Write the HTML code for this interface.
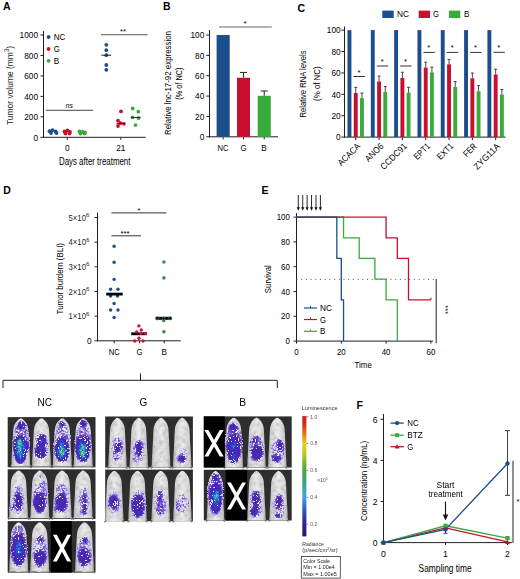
<!DOCTYPE html>
<html><head><meta charset="utf-8"><style>
html,body{margin:0;padding:0;background:#fff;}
svg{display:block;font-family:"Liberation Sans",sans-serif;}
</style></head><body>
<svg width="520" height="579" viewBox="0 0 520 579">
<rect width="520" height="579" fill="#fff"/>
<defs><linearGradient id="mg" x1="0" y1="0" x2="1" y2="0"><stop offset="0" stop-color="#9a9a9a"/><stop offset="0.15" stop-color="#d4d4d4"/><stop offset="0.5" stop-color="#ececec"/><stop offset="0.85" stop-color="#d4d4d4"/><stop offset="1" stop-color="#9a9a9a"/></linearGradient><filter id="soft" x="-20%" y="-20%" width="140%" height="140%"><feGaussianBlur stdDeviation="0.5"/></filter><filter id="fur" x="-20%" y="-10%" width="140%" height="120%" color-interpolation-filters="sRGB"><feGaussianBlur in="SourceGraphic" stdDeviation="0.6" result="B"/><feTurbulence type="fractalNoise" baseFrequency="0.22" numOctaves="2" seed="9" result="T"/><feColorMatrix in="T" type="matrix" values="0 0 0 0 0.55  0 0 0 0 0.55  0 0 0 0 0.55  0.9 0 0 0 -0.38" result="T2"/><feComposite in="T2" in2="B" operator="in" result="T3"/><feMerge><feMergeNode in="B"/><feMergeNode in="T3"/></feMerge></filter><filter id="imgblur"><feGaussianBlur stdDeviation="0.3"/></filter><filter id="lum1" x="0" y="0" width="1" height="1" color-interpolation-filters="sRGB"><feGaussianBlur in="SourceGraphic" stdDeviation="1.7" result="F"/><feTurbulence type="fractalNoise" baseFrequency="0.6" numOctaves="2" seed="3" result="N1a"/><feColorMatrix in="N1a" type="matrix" values="1 0 0 0 0  1 0 0 0 0  1 0 0 0 0  0 0 0 0 1" result="N1"/><feTurbulence type="fractalNoise" baseFrequency="0.12" numOctaves="2" seed="6" result="N2a"/><feColorMatrix in="N2a" type="matrix" values="1 0 0 0 0  1 0 0 0 0  1 0 0 0 0  0 0 0 0 1" result="N2"/><feComposite in="N1" in2="N2" operator="arithmetic" k1="0" k2="1.5" k3="0.8" k4="-0.65" result="N"/><feComposite in="F" in2="N" operator="arithmetic" k1="4.4" k2="0" k3="0" k4="-0.3" result="FN"/><feColorMatrix in="FN" type="matrix" values="0 0 0 0 0  0 0 0 0 0  0 0 0 0 0  1 0 0 0 0" result="FA"/><feComponentTransfer in="FA" result="M"><feFuncA type="discrete" tableValues="0 0 1 1 1 1 1 1 1 1"/></feComponentTransfer><feComposite in="F" in2="N" operator="arithmetic" k1="0" k2="1.25" k3="0.35" k4="-0.295" result="FC"/><feComponentTransfer in="FC" result="C"><feFuncR type="table" tableValues="0.843 0.804 0.725 0.478 0.353 0.282 0.275 0.176 0.157 0.235 0.843"/><feFuncG type="table" tableValues="0.804 0.753 0.667 0.373 0.220 0.141 0.173 0.243 0.510 0.784 0.784"/><feFuncB type="table" tableValues="0.961 0.949 0.933 0.839 0.729 0.651 0.729 0.804 0.882 0.588 0.157"/><feFuncA type="linear" slope="0" intercept="1"/></feComponentTransfer><feComposite in="C" in2="M" operator="in"/></filter><filter id="lum2" x="0" y="0" width="1" height="1" color-interpolation-filters="sRGB"><feGaussianBlur in="SourceGraphic" stdDeviation="1.7" result="F"/><feTurbulence type="fractalNoise" baseFrequency="0.6" numOctaves="2" seed="6" result="N1a"/><feColorMatrix in="N1a" type="matrix" values="1 0 0 0 0  1 0 0 0 0  1 0 0 0 0  0 0 0 0 1" result="N1"/><feTurbulence type="fractalNoise" baseFrequency="0.12" numOctaves="2" seed="11" result="N2a"/><feColorMatrix in="N2a" type="matrix" values="1 0 0 0 0  1 0 0 0 0  1 0 0 0 0  0 0 0 0 1" result="N2"/><feComposite in="N1" in2="N2" operator="arithmetic" k1="0" k2="1.5" k3="0.8" k4="-0.65" result="N"/><feComposite in="F" in2="N" operator="arithmetic" k1="4.4" k2="0" k3="0" k4="-0.3" result="FN"/><feColorMatrix in="FN" type="matrix" values="0 0 0 0 0  0 0 0 0 0  0 0 0 0 0  1 0 0 0 0" result="FA"/><feComponentTransfer in="FA" result="M"><feFuncA type="discrete" tableValues="0 0 1 1 1 1 1 1 1 1"/></feComponentTransfer><feComposite in="F" in2="N" operator="arithmetic" k1="0" k2="1.25" k3="0.35" k4="-0.295" result="FC"/><feComponentTransfer in="FC" result="C"><feFuncR type="table" tableValues="0.843 0.804 0.725 0.478 0.353 0.282 0.275 0.176 0.157 0.235 0.843"/><feFuncG type="table" tableValues="0.804 0.753 0.667 0.373 0.220 0.141 0.173 0.243 0.510 0.784 0.784"/><feFuncB type="table" tableValues="0.961 0.949 0.933 0.839 0.729 0.651 0.729 0.804 0.882 0.588 0.157"/><feFuncA type="linear" slope="0" intercept="1"/></feComponentTransfer><feComposite in="C" in2="M" operator="in"/></filter><filter id="lum3" x="0" y="0" width="1" height="1" color-interpolation-filters="sRGB"><feGaussianBlur in="SourceGraphic" stdDeviation="1.7" result="F"/><feTurbulence type="fractalNoise" baseFrequency="0.6" numOctaves="2" seed="9" result="N1a"/><feColorMatrix in="N1a" type="matrix" values="1 0 0 0 0  1 0 0 0 0  1 0 0 0 0  0 0 0 0 1" result="N1"/><feTurbulence type="fractalNoise" baseFrequency="0.12" numOctaves="2" seed="16" result="N2a"/><feColorMatrix in="N2a" type="matrix" values="1 0 0 0 0  1 0 0 0 0  1 0 0 0 0  0 0 0 0 1" result="N2"/><feComposite in="N1" in2="N2" operator="arithmetic" k1="0" k2="1.5" k3="0.8" k4="-0.65" result="N"/><feComposite in="F" in2="N" operator="arithmetic" k1="4.4" k2="0" k3="0" k4="-0.3" result="FN"/><feColorMatrix in="FN" type="matrix" values="0 0 0 0 0  0 0 0 0 0  0 0 0 0 0  1 0 0 0 0" result="FA"/><feComponentTransfer in="FA" result="M"><feFuncA type="discrete" tableValues="0 0 1 1 1 1 1 1 1 1"/></feComponentTransfer><feComposite in="F" in2="N" operator="arithmetic" k1="0" k2="1.25" k3="0.35" k4="-0.295" result="FC"/><feComponentTransfer in="FC" result="C"><feFuncR type="table" tableValues="0.843 0.804 0.725 0.478 0.353 0.282 0.275 0.176 0.157 0.235 0.843"/><feFuncG type="table" tableValues="0.804 0.753 0.667 0.373 0.220 0.141 0.173 0.243 0.510 0.784 0.784"/><feFuncB type="table" tableValues="0.961 0.949 0.933 0.839 0.729 0.651 0.729 0.804 0.882 0.588 0.157"/><feFuncA type="linear" slope="0" intercept="1"/></feComponentTransfer><feComposite in="C" in2="M" operator="in"/></filter><filter id="lum4" x="0" y="0" width="1" height="1" color-interpolation-filters="sRGB"><feGaussianBlur in="SourceGraphic" stdDeviation="1.7" result="F"/><feTurbulence type="fractalNoise" baseFrequency="0.6" numOctaves="2" seed="12" result="N1a"/><feColorMatrix in="N1a" type="matrix" values="1 0 0 0 0  1 0 0 0 0  1 0 0 0 0  0 0 0 0 1" result="N1"/><feTurbulence type="fractalNoise" baseFrequency="0.12" numOctaves="2" seed="21" result="N2a"/><feColorMatrix in="N2a" type="matrix" values="1 0 0 0 0  1 0 0 0 0  1 0 0 0 0  0 0 0 0 1" result="N2"/><feComposite in="N1" in2="N2" operator="arithmetic" k1="0" k2="1.5" k3="0.8" k4="-0.65" result="N"/><feComposite in="F" in2="N" operator="arithmetic" k1="4.4" k2="0" k3="0" k4="-0.3" result="FN"/><feColorMatrix in="FN" type="matrix" values="0 0 0 0 0  0 0 0 0 0  0 0 0 0 0  1 0 0 0 0" result="FA"/><feComponentTransfer in="FA" result="M"><feFuncA type="discrete" tableValues="0 0 1 1 1 1 1 1 1 1"/></feComponentTransfer><feComposite in="F" in2="N" operator="arithmetic" k1="0" k2="1.25" k3="0.35" k4="-0.295" result="FC"/><feComponentTransfer in="FC" result="C"><feFuncR type="table" tableValues="0.843 0.804 0.725 0.478 0.353 0.282 0.275 0.176 0.157 0.235 0.843"/><feFuncG type="table" tableValues="0.804 0.753 0.667 0.373 0.220 0.141 0.173 0.243 0.510 0.784 0.784"/><feFuncB type="table" tableValues="0.961 0.949 0.933 0.839 0.729 0.651 0.729 0.804 0.882 0.588 0.157"/><feFuncA type="linear" slope="0" intercept="1"/></feComponentTransfer><feComposite in="C" in2="M" operator="in"/></filter><filter id="lum5" x="0" y="0" width="1" height="1" color-interpolation-filters="sRGB"><feGaussianBlur in="SourceGraphic" stdDeviation="1.7" result="F"/><feTurbulence type="fractalNoise" baseFrequency="0.6" numOctaves="2" seed="15" result="N1a"/><feColorMatrix in="N1a" type="matrix" values="1 0 0 0 0  1 0 0 0 0  1 0 0 0 0  0 0 0 0 1" result="N1"/><feTurbulence type="fractalNoise" baseFrequency="0.12" numOctaves="2" seed="26" result="N2a"/><feColorMatrix in="N2a" type="matrix" values="1 0 0 0 0  1 0 0 0 0  1 0 0 0 0  0 0 0 0 1" result="N2"/><feComposite in="N1" in2="N2" operator="arithmetic" k1="0" k2="1.5" k3="0.8" k4="-0.65" result="N"/><feComposite in="F" in2="N" operator="arithmetic" k1="4.4" k2="0" k3="0" k4="-0.3" result="FN"/><feColorMatrix in="FN" type="matrix" values="0 0 0 0 0  0 0 0 0 0  0 0 0 0 0  1 0 0 0 0" result="FA"/><feComponentTransfer in="FA" result="M"><feFuncA type="discrete" tableValues="0 0 1 1 1 1 1 1 1 1"/></feComponentTransfer><feComposite in="F" in2="N" operator="arithmetic" k1="0" k2="1.25" k3="0.35" k4="-0.295" result="FC"/><feComponentTransfer in="FC" result="C"><feFuncR type="table" tableValues="0.843 0.804 0.725 0.478 0.353 0.282 0.275 0.176 0.157 0.235 0.843"/><feFuncG type="table" tableValues="0.804 0.753 0.667 0.373 0.220 0.141 0.173 0.243 0.510 0.784 0.784"/><feFuncB type="table" tableValues="0.961 0.949 0.933 0.839 0.729 0.651 0.729 0.804 0.882 0.588 0.157"/><feFuncA type="linear" slope="0" intercept="1"/></feComponentTransfer><feComposite in="C" in2="M" operator="in"/></filter><filter id="lum6" x="0" y="0" width="1" height="1" color-interpolation-filters="sRGB"><feGaussianBlur in="SourceGraphic" stdDeviation="1.7" result="F"/><feTurbulence type="fractalNoise" baseFrequency="0.6" numOctaves="2" seed="18" result="N1a"/><feColorMatrix in="N1a" type="matrix" values="1 0 0 0 0  1 0 0 0 0  1 0 0 0 0  0 0 0 0 1" result="N1"/><feTurbulence type="fractalNoise" baseFrequency="0.12" numOctaves="2" seed="31" result="N2a"/><feColorMatrix in="N2a" type="matrix" values="1 0 0 0 0  1 0 0 0 0  1 0 0 0 0  0 0 0 0 1" result="N2"/><feComposite in="N1" in2="N2" operator="arithmetic" k1="0" k2="1.5" k3="0.8" k4="-0.65" result="N"/><feComposite in="F" in2="N" operator="arithmetic" k1="4.4" k2="0" k3="0" k4="-0.3" result="FN"/><feColorMatrix in="FN" type="matrix" values="0 0 0 0 0  0 0 0 0 0  0 0 0 0 0  1 0 0 0 0" result="FA"/><feComponentTransfer in="FA" result="M"><feFuncA type="discrete" tableValues="0 0 1 1 1 1 1 1 1 1"/></feComponentTransfer><feComposite in="F" in2="N" operator="arithmetic" k1="0" k2="1.25" k3="0.35" k4="-0.295" result="FC"/><feComponentTransfer in="FC" result="C"><feFuncR type="table" tableValues="0.843 0.804 0.725 0.478 0.353 0.282 0.275 0.176 0.157 0.235 0.843"/><feFuncG type="table" tableValues="0.804 0.753 0.667 0.373 0.220 0.141 0.173 0.243 0.510 0.784 0.784"/><feFuncB type="table" tableValues="0.961 0.949 0.933 0.839 0.729 0.651 0.729 0.804 0.882 0.588 0.157"/><feFuncA type="linear" slope="0" intercept="1"/></feComponentTransfer><feComposite in="C" in2="M" operator="in"/></filter><filter id="lum7" x="0" y="0" width="1" height="1" color-interpolation-filters="sRGB"><feGaussianBlur in="SourceGraphic" stdDeviation="1.7" result="F"/><feTurbulence type="fractalNoise" baseFrequency="0.6" numOctaves="2" seed="21" result="N1a"/><feColorMatrix in="N1a" type="matrix" values="1 0 0 0 0  1 0 0 0 0  1 0 0 0 0  0 0 0 0 1" result="N1"/><feTurbulence type="fractalNoise" baseFrequency="0.12" numOctaves="2" seed="36" result="N2a"/><feColorMatrix in="N2a" type="matrix" values="1 0 0 0 0  1 0 0 0 0  1 0 0 0 0  0 0 0 0 1" result="N2"/><feComposite in="N1" in2="N2" operator="arithmetic" k1="0" k2="1.5" k3="0.8" k4="-0.65" result="N"/><feComposite in="F" in2="N" operator="arithmetic" k1="4.4" k2="0" k3="0" k4="-0.3" result="FN"/><feColorMatrix in="FN" type="matrix" values="0 0 0 0 0  0 0 0 0 0  0 0 0 0 0  1 0 0 0 0" result="FA"/><feComponentTransfer in="FA" result="M"><feFuncA type="discrete" tableValues="0 0 1 1 1 1 1 1 1 1"/></feComponentTransfer><feComposite in="F" in2="N" operator="arithmetic" k1="0" k2="1.25" k3="0.35" k4="-0.295" result="FC"/><feComponentTransfer in="FC" result="C"><feFuncR type="table" tableValues="0.843 0.804 0.725 0.478 0.353 0.282 0.275 0.176 0.157 0.235 0.843"/><feFuncG type="table" tableValues="0.804 0.753 0.667 0.373 0.220 0.141 0.173 0.243 0.510 0.784 0.784"/><feFuncB type="table" tableValues="0.961 0.949 0.933 0.839 0.729 0.651 0.729 0.804 0.882 0.588 0.157"/><feFuncA type="linear" slope="0" intercept="1"/></feComponentTransfer><feComposite in="C" in2="M" operator="in"/></filter></defs>
<g filter="url(#imgblur)">
<rect x="7.70" y="417.10" width="87.80" height="50.20" fill="#2e2e2e"/>
<path d="M14.33 464.30 L10.62 467.80 M27.27 464.30 L30.98 467.80" stroke="#777" stroke-width="1.3"/>
<path d="M21.54 418.60 C22.13 418.84 22.93 419.47 23.57 420.03 C24.22 420.59 24.87 421.22 25.43 421.94 C25.98 422.65 26.47 423.37 26.91 424.32 C27.34 425.28 27.74 426.23 28.02 427.66 C28.29 429.09 28.40 430.45 28.57 432.91 C28.74 435.37 28.86 439.27 29.03 442.45 C29.20 445.63 29.42 449.21 29.59 451.99 C29.76 454.77 29.97 457.16 30.05 459.14 C30.13 461.13 30.17 462.72 30.05 463.92 C29.93 465.11 32.27 465.90 29.31 466.30 C26.35 466.70 15.25 466.70 12.29 466.30 C9.33 465.90 11.67 465.11 11.55 463.92 C11.43 462.72 11.47 461.13 11.55 459.14 C11.63 457.16 11.84 454.77 12.01 451.99 C12.18 449.21 12.40 445.63 12.57 442.45 C12.74 439.27 12.86 435.37 13.03 432.91 C13.20 430.45 13.31 429.09 13.59 427.66 C13.86 426.23 14.26 425.28 14.70 424.32 C15.13 423.37 15.62 422.65 16.18 421.94 C16.73 421.22 17.38 420.59 18.03 420.03 C18.67 419.47 19.47 418.84 20.06 418.60 C20.65 418.36 20.95 418.36 21.54 418.60 Z" fill="url(#mg)" filter="url(#fur)"/>
<path d="M35.02 464.30 L31.32 467.80 M47.98 464.30 L51.67 467.80" stroke="#777" stroke-width="1.3"/>
<path d="M42.24 418.60 C42.83 418.84 43.63 419.47 44.27 420.03 C44.92 420.59 45.57 421.22 46.12 421.94 C46.68 422.65 47.17 423.37 47.61 424.32 C48.04 425.28 48.44 426.23 48.72 427.66 C48.99 429.09 49.10 430.45 49.27 432.91 C49.44 435.37 49.56 439.27 49.73 442.45 C49.90 445.63 50.12 449.21 50.29 451.99 C50.46 454.77 50.67 457.16 50.75 459.14 C50.83 461.13 50.87 462.72 50.75 463.92 C50.63 465.11 52.97 465.90 50.01 466.30 C47.05 466.70 35.95 466.70 32.99 466.30 C30.03 465.90 32.37 465.11 32.25 463.92 C32.13 462.72 32.17 461.13 32.25 459.14 C32.33 457.16 32.54 454.77 32.71 451.99 C32.88 449.21 33.10 445.63 33.27 442.45 C33.44 439.27 33.56 435.37 33.73 432.91 C33.90 430.45 34.01 429.09 34.28 427.66 C34.56 426.23 34.96 425.28 35.39 424.32 C35.83 423.37 36.32 422.65 36.88 421.94 C37.43 421.22 38.08 420.59 38.73 420.03 C39.37 419.47 40.17 418.84 40.76 418.60 C41.35 418.36 41.65 418.36 42.24 418.60 Z" fill="url(#mg)" filter="url(#fur)"/>
<path d="M55.82 464.30 L52.12 467.80 M68.77 464.30 L72.47 467.80" stroke="#777" stroke-width="1.3"/>
<path d="M63.04 418.60 C63.63 418.84 64.43 419.47 65.08 420.03 C65.72 420.59 66.37 421.22 66.92 421.94 C67.48 422.65 67.97 423.37 68.41 424.32 C68.84 425.28 69.24 426.23 69.52 427.66 C69.79 429.09 69.90 430.45 70.07 432.91 C70.24 435.37 70.36 439.27 70.53 442.45 C70.70 445.63 70.92 449.21 71.09 451.99 C71.26 454.77 71.47 457.16 71.55 459.14 C71.63 461.13 71.67 462.72 71.55 463.92 C71.43 465.11 73.77 465.90 70.81 466.30 C67.85 466.70 56.75 466.70 53.79 466.30 C50.83 465.90 53.17 465.11 53.05 463.92 C52.93 462.72 52.97 461.13 53.05 459.14 C53.13 457.16 53.34 454.77 53.51 451.99 C53.68 449.21 53.90 445.63 54.07 442.45 C54.24 439.27 54.36 435.37 54.53 432.91 C54.70 430.45 54.81 429.09 55.08 427.66 C55.36 426.23 55.76 425.28 56.19 424.32 C56.63 423.37 57.12 422.65 57.67 421.94 C58.23 421.22 58.88 420.59 59.52 420.03 C60.17 419.47 60.97 418.84 61.56 418.60 C62.15 418.36 62.45 418.36 63.04 418.60 Z" fill="url(#mg)" filter="url(#fur)"/>
<path d="M76.73 464.30 L73.03 467.80 M89.67 464.30 L93.38 467.80" stroke="#777" stroke-width="1.3"/>
<path d="M83.94 418.60 C84.53 418.84 85.33 419.47 85.98 420.03 C86.62 420.59 87.27 421.22 87.83 421.94 C88.38 422.65 88.87 423.37 89.31 424.32 C89.74 425.28 90.14 426.23 90.42 427.66 C90.69 429.09 90.80 430.45 90.97 432.91 C91.14 435.37 91.26 439.27 91.43 442.45 C91.60 445.63 91.82 449.21 91.99 451.99 C92.16 454.77 92.37 457.16 92.45 459.14 C92.53 461.13 92.57 462.72 92.45 463.92 C92.33 465.11 94.67 465.90 91.71 466.30 C88.75 466.70 77.65 466.70 74.69 466.30 C71.73 465.90 74.07 465.11 73.95 463.92 C73.83 462.72 73.87 461.13 73.95 459.14 C74.03 457.16 74.24 454.77 74.41 451.99 C74.58 449.21 74.80 445.63 74.97 442.45 C75.14 439.27 75.26 435.37 75.43 432.91 C75.60 430.45 75.71 429.09 75.98 427.66 C76.26 426.23 76.66 425.28 77.09 424.32 C77.53 423.37 78.02 422.65 78.58 421.94 C79.13 421.22 79.78 420.59 80.42 420.03 C81.07 419.47 81.87 418.84 82.46 418.60 C83.05 418.36 83.35 418.36 83.94 418.60 Z" fill="url(#mg)" filter="url(#fur)"/>
<g filter="url(#lum1)">
<rect x="7.70" y="417.10" width="87.80" height="50.20" fill="#000"/>
<ellipse cx="21.00" cy="442.00" rx="9.00" ry="22.00" fill="#fff" fill-opacity="0.3"/>
<ellipse cx="20.00" cy="450.00" rx="7.00" ry="14.00" fill="#fff" fill-opacity="0.33"/>
<ellipse cx="20.00" cy="449.00" rx="4.50" ry="12.00" fill="#fff" fill-opacity="0.3"/>
<ellipse cx="19.50" cy="448.00" rx="2.20" ry="10.00" fill="#fff" fill-opacity="0.4"/>
<ellipse cx="19.30" cy="442.50" rx="1.60" ry="3.00" fill="#fff" fill-opacity="0.5"/>
<ellipse cx="21.50" cy="425.00" rx="4.00" ry="3.50" fill="#fff" fill-opacity="0.4"/>
<ellipse cx="27.00" cy="447.00" rx="2.50" ry="5.00" fill="#fff" fill-opacity="0.2"/>
<ellipse cx="41.50" cy="446.00" rx="8.50" ry="14.00" fill="#fff" fill-opacity="0.25"/>
<ellipse cx="41.00" cy="453.00" rx="7.00" ry="5.50" fill="#fff" fill-opacity="0.35"/>
<ellipse cx="41.50" cy="442.00" rx="4.00" ry="8.00" fill="#fff" fill-opacity="0.38"/>
<ellipse cx="41.50" cy="441.00" rx="1.80" ry="4.50" fill="#fff" fill-opacity="0.3"/>
<ellipse cx="62.00" cy="423.50" rx="2.80" ry="2.80" fill="#fff" fill-opacity="0.4"/>
<ellipse cx="62.00" cy="442.00" rx="9.00" ry="20.00" fill="#fff" fill-opacity="0.28"/>
<ellipse cx="62.00" cy="451.00" rx="8.00" ry="13.00" fill="#fff" fill-opacity="0.33"/>
<ellipse cx="62.00" cy="450.00" rx="4.50" ry="9.00" fill="#fff" fill-opacity="0.3"/>
<ellipse cx="62.00" cy="452.00" rx="2.80" ry="5.00" fill="#fff" fill-opacity="0.38"/>
<ellipse cx="61.50" cy="445.00" rx="1.80" ry="3.50" fill="#fff" fill-opacity="0.42"/>
<ellipse cx="83.00" cy="423.00" rx="3.50" ry="3.50" fill="#fff" fill-opacity="0.45"/>
<ellipse cx="83.00" cy="442.00" rx="9.00" ry="20.00" fill="#fff" fill-opacity="0.28"/>
<ellipse cx="83.00" cy="449.00" rx="8.00" ry="14.00" fill="#fff" fill-opacity="0.33"/>
<ellipse cx="83.00" cy="450.00" rx="5.00" ry="10.00" fill="#fff" fill-opacity="0.3"/>
<ellipse cx="83.00" cy="449.00" rx="2.80" ry="6.00" fill="#fff" fill-opacity="0.38"/>
<ellipse cx="83.00" cy="455.00" rx="2.20" ry="3.50" fill="#fff" fill-opacity="0.42"/>
</g>
<rect x="7.70" y="469.30" width="87.80" height="49.70" fill="#2e2e2e"/>
<path d="M12.13 516.00 L8.43 519.50 M25.08 516.00 L28.78 519.50" stroke="#777" stroke-width="1.3"/>
<path d="M19.34 470.80 C19.93 471.04 20.73 471.67 21.38 472.22 C22.02 472.77 22.67 473.40 23.23 474.10 C23.78 474.81 24.27 475.52 24.71 476.46 C25.14 477.41 25.54 478.35 25.82 479.77 C26.09 481.18 26.20 482.52 26.37 484.96 C26.54 487.40 26.66 491.25 26.83 494.40 C27.00 497.55 27.22 501.09 27.39 503.84 C27.56 506.59 27.77 508.95 27.85 510.92 C27.93 512.89 27.97 514.46 27.85 515.64 C27.73 516.82 30.07 517.61 27.11 518.00 C24.15 518.39 13.05 518.39 10.09 518.00 C7.13 517.61 9.47 516.82 9.35 515.64 C9.23 514.46 9.27 512.89 9.35 510.92 C9.43 508.95 9.64 506.59 9.81 503.84 C9.98 501.09 10.20 497.55 10.37 494.40 C10.54 491.25 10.66 487.40 10.83 484.96 C11.00 482.52 11.11 481.18 11.39 479.77 C11.66 478.35 12.06 477.41 12.50 476.46 C12.93 475.52 13.42 474.81 13.98 474.10 C14.53 473.40 15.18 472.77 15.83 472.22 C16.47 471.67 17.27 471.04 17.86 470.80 C18.45 470.56 18.75 470.56 19.34 470.80 Z" fill="url(#mg)" filter="url(#fur)"/>
<path d="M33.32 516.00 L29.62 519.50 M46.27 516.00 L49.97 519.50" stroke="#777" stroke-width="1.3"/>
<path d="M40.54 470.80 C41.13 471.04 41.93 471.67 42.57 472.22 C43.22 472.77 43.87 473.40 44.42 474.10 C44.98 474.81 45.47 475.52 45.91 476.46 C46.34 477.41 46.74 478.35 47.02 479.77 C47.29 481.18 47.40 482.52 47.57 484.96 C47.74 487.40 47.86 491.25 48.03 494.40 C48.20 497.55 48.42 501.09 48.59 503.84 C48.76 506.59 48.97 508.95 49.05 510.92 C49.13 512.89 49.17 514.46 49.05 515.64 C48.93 516.82 51.27 517.61 48.31 518.00 C45.35 518.39 34.25 518.39 31.29 518.00 C28.33 517.61 30.67 516.82 30.55 515.64 C30.43 514.46 30.47 512.89 30.55 510.92 C30.63 508.95 30.84 506.59 31.01 503.84 C31.18 501.09 31.40 497.55 31.57 494.40 C31.74 491.25 31.86 487.40 32.03 484.96 C32.20 482.52 32.31 481.18 32.58 479.77 C32.86 478.35 33.26 477.41 33.69 476.46 C34.13 475.52 34.62 474.81 35.17 474.10 C35.73 473.40 36.38 472.77 37.02 472.22 C37.67 471.67 38.47 471.04 39.06 470.80 C39.65 470.56 39.95 470.56 40.54 470.80 Z" fill="url(#mg)" filter="url(#fur)"/>
<path d="M55.62 516.00 L51.92 519.50 M68.58 516.00 L72.28 519.50" stroke="#777" stroke-width="1.3"/>
<path d="M62.84 470.80 C63.43 471.04 64.23 471.67 64.88 472.22 C65.52 472.77 66.17 473.40 66.72 474.10 C67.28 474.81 67.77 475.52 68.20 476.46 C68.64 477.41 69.04 478.35 69.31 479.77 C69.59 481.18 69.70 482.52 69.87 484.96 C70.04 487.40 70.16 491.25 70.33 494.40 C70.50 497.55 70.72 501.09 70.89 503.84 C71.06 506.59 71.27 508.95 71.35 510.92 C71.43 512.89 71.47 514.46 71.35 515.64 C71.23 516.82 73.57 517.61 70.61 518.00 C67.65 518.39 56.55 518.39 53.59 518.00 C50.63 517.61 52.97 516.82 52.85 515.64 C52.73 514.46 52.77 512.89 52.85 510.92 C52.93 508.95 53.14 506.59 53.31 503.84 C53.48 501.09 53.70 497.55 53.87 494.40 C54.04 491.25 54.16 487.40 54.33 484.96 C54.50 482.52 54.61 481.18 54.89 479.77 C55.16 478.35 55.56 477.41 56.00 476.46 C56.43 475.52 56.92 474.81 57.48 474.10 C58.03 473.40 58.68 472.77 59.33 472.22 C59.97 471.67 60.77 471.04 61.36 470.80 C61.95 470.56 62.25 470.56 62.84 470.80 Z" fill="url(#mg)" filter="url(#fur)"/>
<path d="M76.62 516.00 L72.92 519.50 M89.57 516.00 L93.27 519.50" stroke="#777" stroke-width="1.3"/>
<path d="M83.84 470.80 C84.43 471.04 85.23 471.67 85.88 472.22 C86.52 472.77 87.17 473.40 87.72 474.10 C88.28 474.81 88.77 475.52 89.20 476.46 C89.64 477.41 90.04 478.35 90.31 479.77 C90.59 481.18 90.70 482.52 90.87 484.96 C91.04 487.40 91.16 491.25 91.33 494.40 C91.50 497.55 91.72 501.09 91.89 503.84 C92.06 506.59 92.27 508.95 92.35 510.92 C92.43 512.89 92.47 514.46 92.35 515.64 C92.23 516.82 94.57 517.61 91.61 518.00 C88.65 518.39 77.55 518.39 74.59 518.00 C71.63 517.61 73.97 516.82 73.85 515.64 C73.73 514.46 73.77 512.89 73.85 510.92 C73.93 508.95 74.14 506.59 74.31 503.84 C74.48 501.09 74.70 497.55 74.87 494.40 C75.04 491.25 75.16 487.40 75.33 484.96 C75.50 482.52 75.61 481.18 75.88 479.77 C76.16 478.35 76.56 477.41 76.99 476.46 C77.43 475.52 77.92 474.81 78.47 474.10 C79.03 473.40 79.68 472.77 80.32 472.22 C80.97 471.67 81.77 471.04 82.36 470.80 C82.95 470.56 83.25 470.56 83.84 470.80 Z" fill="url(#mg)" filter="url(#fur)"/>
<g filter="url(#lum2)">
<rect x="7.70" y="469.30" width="87.80" height="49.70" fill="#000"/>
<ellipse cx="18.00" cy="500.00" rx="8.00" ry="15.00" fill="#fff" fill-opacity="0.25"/>
<ellipse cx="18.50" cy="501.00" rx="3.50" ry="9.00" fill="#fff" fill-opacity="0.35"/>
<ellipse cx="11.00" cy="508.00" rx="2.50" ry="3.00" fill="#fff" fill-opacity="0.35"/>
<ellipse cx="40.00" cy="497.00" rx="9.00" ry="17.00" fill="#fff" fill-opacity="0.28"/>
<ellipse cx="39.50" cy="503.00" rx="6.00" ry="10.00" fill="#fff" fill-opacity="0.35"/>
<ellipse cx="39.50" cy="476.50" rx="2.50" ry="2.50" fill="#fff" fill-opacity="0.4"/>
<ellipse cx="45.50" cy="482.00" rx="1.80" ry="1.80" fill="#fff" fill-opacity="0.4"/>
<ellipse cx="62.00" cy="498.00" rx="9.00" ry="16.00" fill="#fff" fill-opacity="0.26"/>
<ellipse cx="61.50" cy="502.00" rx="5.50" ry="9.00" fill="#fff" fill-opacity="0.35"/>
<ellipse cx="55.00" cy="510.00" rx="3.00" ry="3.00" fill="#fff" fill-opacity="0.35"/>
<ellipse cx="62.00" cy="472.00" rx="1.80" ry="1.80" fill="#fff" fill-opacity="0.4"/>
<ellipse cx="63.00" cy="498.00" rx="1.50" ry="1.80" fill="#fff" fill-opacity="0.3"/>
<ellipse cx="83.50" cy="502.00" rx="7.00" ry="16.00" fill="#fff" fill-opacity="0.22"/>
<ellipse cx="84.50" cy="503.00" rx="2.00" ry="12.00" fill="#fff" fill-opacity="0.38"/>
<ellipse cx="82.00" cy="479.00" rx="1.50" ry="1.20" fill="#fff" fill-opacity="0.4"/>
</g>
<rect x="7.70" y="521.10" width="87.80" height="51.50" fill="#2e2e2e"/>
<path d="M12.22 569.60 L8.52 573.10 M25.17 569.60 L28.88 573.10" stroke="#777" stroke-width="1.3"/>
<path d="M19.44 522.60 C20.03 522.85 20.83 523.50 21.47 524.07 C22.12 524.64 22.77 525.29 23.32 526.03 C23.88 526.76 24.37 527.50 24.80 528.48 C25.24 529.46 25.64 530.44 25.91 531.91 C26.19 533.38 26.30 534.77 26.47 537.30 C26.64 539.83 26.76 543.83 26.93 547.10 C27.10 550.37 27.32 554.04 27.49 556.90 C27.66 559.76 27.87 562.21 27.95 564.25 C28.03 566.29 28.07 567.92 27.95 569.15 C27.83 570.38 30.17 571.19 27.21 571.60 C24.25 572.01 13.15 572.01 10.19 571.60 C7.23 571.19 9.57 570.38 9.45 569.15 C9.33 567.92 9.37 566.29 9.45 564.25 C9.53 562.21 9.74 559.76 9.91 556.90 C10.08 554.04 10.30 550.37 10.47 547.10 C10.64 543.83 10.76 539.83 10.93 537.30 C11.10 534.77 11.21 533.38 11.48 531.91 C11.76 530.44 12.16 529.46 12.59 528.48 C13.03 527.50 13.52 526.76 14.07 526.03 C14.63 525.29 15.28 524.64 15.92 524.07 C16.57 523.50 17.37 522.85 17.96 522.60 C18.55 522.36 18.85 522.36 19.44 522.60 Z" fill="url(#mg)" filter="url(#fur)"/>
<path d="M33.23 569.60 L29.53 573.10 M46.18 569.60 L49.88 573.10" stroke="#777" stroke-width="1.3"/>
<path d="M40.44 522.60 C41.03 522.85 41.83 523.50 42.48 524.07 C43.12 524.64 43.77 525.29 44.33 526.03 C44.88 526.76 45.37 527.50 45.81 528.48 C46.24 529.46 46.64 530.44 46.92 531.91 C47.19 533.38 47.30 534.77 47.47 537.30 C47.64 539.83 47.76 543.83 47.93 547.10 C48.10 550.37 48.32 554.04 48.49 556.90 C48.66 559.76 48.87 562.21 48.95 564.25 C49.03 566.29 49.07 567.92 48.95 569.15 C48.83 570.38 51.17 571.19 48.21 571.60 C45.25 572.01 34.15 572.01 31.19 571.60 C28.23 571.19 30.57 570.38 30.45 569.15 C30.33 567.92 30.37 566.29 30.45 564.25 C30.53 562.21 30.74 559.76 30.91 556.90 C31.08 554.04 31.30 550.37 31.47 547.10 C31.64 543.83 31.76 539.83 31.93 537.30 C32.10 534.77 32.21 533.38 32.48 531.91 C32.76 530.44 33.16 529.46 33.59 528.48 C34.03 527.50 34.52 526.76 35.08 526.03 C35.63 525.29 36.28 524.64 36.93 524.07 C37.57 523.50 38.37 522.85 38.96 522.60 C39.55 522.36 39.85 522.36 40.44 522.60 Z" fill="url(#mg)" filter="url(#fur)"/>
<path d="M78.03 569.60 L74.33 573.10 M90.97 569.60 L94.67 573.10" stroke="#777" stroke-width="1.3"/>
<path d="M85.24 522.60 C85.83 522.85 86.63 523.50 87.28 524.07 C87.92 524.64 88.57 525.29 89.12 526.03 C89.68 526.76 90.17 527.50 90.61 528.48 C91.04 529.46 91.44 530.44 91.72 531.91 C91.99 533.38 92.10 534.77 92.27 537.30 C92.44 539.83 92.56 543.83 92.73 547.10 C92.90 550.37 93.12 554.04 93.29 556.90 C93.46 559.76 93.67 562.21 93.75 564.25 C93.83 566.29 93.87 567.92 93.75 569.15 C93.63 570.38 95.97 571.19 93.01 571.60 C90.05 572.01 78.95 572.01 75.99 571.60 C73.03 571.19 75.37 570.38 75.25 569.15 C75.13 567.92 75.17 566.29 75.25 564.25 C75.33 562.21 75.54 559.76 75.71 556.90 C75.88 554.04 76.10 550.37 76.27 547.10 C76.44 543.83 76.56 539.83 76.73 537.30 C76.90 534.77 77.01 533.38 77.28 531.91 C77.56 530.44 77.96 529.46 78.39 528.48 C78.83 527.50 79.32 526.76 79.88 526.03 C80.43 525.29 81.08 524.64 81.72 524.07 C82.37 523.50 83.17 522.85 83.76 522.60 C84.35 522.36 84.65 522.36 85.24 522.60 Z" fill="url(#mg)" filter="url(#fur)"/>
<g filter="url(#lum3)">
<rect x="7.70" y="521.10" width="87.80" height="51.50" fill="#000"/>
<ellipse cx="18.70" cy="546.00" rx="9.00" ry="22.00" fill="#fff" fill-opacity="0.3"/>
<ellipse cx="18.70" cy="550.00" rx="7.50" ry="16.00" fill="#fff" fill-opacity="0.33"/>
<ellipse cx="19.00" cy="549.00" rx="3.00" ry="7.00" fill="#fff" fill-opacity="0.3"/>
<ellipse cx="19.00" cy="549.00" rx="1.80" ry="4.50" fill="#fff" fill-opacity="0.3"/>
<ellipse cx="40.00" cy="552.00" rx="9.00" ry="17.00" fill="#fff" fill-opacity="0.25"/>
<ellipse cx="40.00" cy="558.00" rx="6.00" ry="8.00" fill="#fff" fill-opacity="0.35"/>
<ellipse cx="40.00" cy="539.00" rx="3.00" ry="3.00" fill="#fff" fill-opacity="0.35"/>
<ellipse cx="84.50" cy="552.00" rx="9.00" ry="17.00" fill="#fff" fill-opacity="0.25"/>
<ellipse cx="84.50" cy="557.00" rx="6.00" ry="9.00" fill="#fff" fill-opacity="0.35"/>
<ellipse cx="84.00" cy="540.00" rx="2.50" ry="2.50" fill="#fff" fill-opacity="0.35"/>
</g>
<rect x="50.70" y="521.10" width="21.00" height="51.50" fill="#000"/>
<path d="M52.90 534.80 L56.80 534.80 L71.10 561.50 L67.20 561.50 Z M67.20 534.80 L71.10 534.80 L56.80 561.50 L52.90 561.50 Z" fill="#fff"/>
<rect x="105.20" y="416.50" width="87.70" height="51.00" fill="#2e2e2e"/>
<path d="M111.20 465.00 L107.60 468.50 M123.80 465.00 L127.40 468.50" stroke="#777" stroke-width="1.3"/>
<path d="M118.22 418.00 C118.79 418.25 119.57 418.90 120.20 419.47 C120.83 420.04 121.46 420.69 122.00 421.43 C122.54 422.17 123.02 422.90 123.44 423.88 C123.86 424.86 124.25 425.84 124.52 427.31 C124.79 428.78 124.89 430.17 125.06 432.70 C125.23 435.23 125.34 439.23 125.51 442.50 C125.68 445.77 125.88 449.44 126.05 452.30 C126.22 455.16 126.42 457.61 126.50 459.65 C126.58 461.69 126.62 463.32 126.50 464.55 C126.38 465.78 128.66 466.59 125.78 467.00 C122.90 467.41 112.10 467.41 109.22 467.00 C106.34 466.59 108.62 465.78 108.50 464.55 C108.38 463.32 108.42 461.69 108.50 459.65 C108.58 457.61 108.78 455.16 108.95 452.30 C109.12 449.44 109.32 445.77 109.49 442.50 C109.66 439.23 109.77 435.23 109.94 432.70 C110.11 430.17 110.21 428.78 110.48 427.31 C110.75 425.84 111.14 424.86 111.56 423.88 C111.98 422.90 112.46 422.17 113.00 421.43 C113.54 420.69 114.17 420.04 114.80 419.47 C115.43 418.90 116.21 418.25 116.78 418.00 C117.35 417.75 117.65 417.75 118.22 418.00 Z" fill="url(#mg)" filter="url(#fur)"/>
<path d="M132.50 465.00 L128.90 468.50 M145.10 465.00 L148.70 468.50" stroke="#777" stroke-width="1.3"/>
<path d="M139.52 418.00 C140.09 418.25 140.87 418.90 141.50 419.47 C142.13 420.04 142.76 420.69 143.30 421.43 C143.84 422.17 144.32 422.90 144.74 423.88 C145.16 424.86 145.55 425.84 145.82 427.31 C146.09 428.78 146.20 430.17 146.36 432.70 C146.53 435.23 146.65 439.23 146.81 442.50 C146.97 445.77 147.19 449.44 147.35 452.30 C147.52 455.16 147.73 457.61 147.80 459.65 C147.88 461.69 147.92 463.32 147.80 464.55 C147.68 465.78 149.96 466.59 147.08 467.00 C144.20 467.41 133.40 467.41 130.52 467.00 C127.64 466.59 129.92 465.78 129.80 464.55 C129.68 463.32 129.73 461.69 129.80 459.65 C129.88 457.61 130.09 455.16 130.25 452.30 C130.41 449.44 130.63 445.77 130.79 442.50 C130.96 439.23 131.08 435.23 131.24 432.70 C131.41 430.17 131.51 428.78 131.78 427.31 C132.05 425.84 132.44 424.86 132.86 423.88 C133.28 422.90 133.76 422.17 134.30 421.43 C134.84 420.69 135.47 420.04 136.10 419.47 C136.73 418.90 137.51 418.25 138.08 418.00 C138.65 417.75 138.95 417.75 139.52 418.00 Z" fill="url(#mg)" filter="url(#fur)"/>
<path d="M154.59 465.00 L150.94 468.50 M167.41 465.00 L171.06 468.50" stroke="#777" stroke-width="1.3"/>
<path d="M161.73 418.00 C162.31 418.25 163.10 418.90 163.75 419.47 C164.39 420.04 165.03 420.69 165.57 421.43 C166.12 422.17 166.61 422.90 167.04 423.88 C167.47 424.86 167.86 425.84 168.14 427.31 C168.41 428.78 168.52 430.17 168.69 432.70 C168.85 435.23 168.98 439.23 169.14 442.50 C169.31 445.77 169.52 449.44 169.69 452.30 C169.86 455.16 170.07 457.61 170.15 459.65 C170.23 461.69 170.27 463.32 170.15 464.55 C170.03 465.78 172.35 466.59 169.42 467.00 C166.49 467.41 155.51 467.41 152.58 467.00 C149.65 466.59 151.97 465.78 151.85 464.55 C151.73 463.32 151.77 461.69 151.85 459.65 C151.93 457.61 152.14 455.16 152.31 452.30 C152.48 449.44 152.69 445.77 152.86 442.50 C153.02 439.23 153.15 435.23 153.31 432.70 C153.48 430.17 153.59 428.78 153.86 427.31 C154.14 425.84 154.53 424.86 154.96 423.88 C155.39 422.90 155.88 422.17 156.43 421.43 C156.97 420.69 157.61 420.04 158.25 419.47 C158.90 418.90 159.69 418.25 160.27 418.00 C160.85 417.75 161.15 417.75 161.73 418.00 Z" fill="url(#mg)" filter="url(#fur)"/>
<path d="M175.90 465.00 L172.30 468.50 M188.50 465.00 L192.10 468.50" stroke="#777" stroke-width="1.3"/>
<path d="M182.92 418.00 C183.49 418.25 184.27 418.90 184.90 419.47 C185.53 420.04 186.16 420.69 186.70 421.43 C187.24 422.17 187.72 422.90 188.14 423.88 C188.56 424.86 188.95 425.84 189.22 427.31 C189.49 428.78 189.59 430.17 189.76 432.70 C189.92 435.23 190.04 439.23 190.21 442.50 C190.37 445.77 190.59 449.44 190.75 452.30 C190.91 455.16 191.12 457.61 191.20 459.65 C191.27 461.69 191.32 463.32 191.20 464.55 C191.08 465.78 193.36 466.59 190.48 467.00 C187.60 467.41 176.80 467.41 173.92 467.00 C171.04 466.59 173.32 465.78 173.20 464.55 C173.08 463.32 173.12 461.69 173.20 459.65 C173.27 457.61 173.48 455.16 173.65 452.30 C173.81 449.44 174.03 445.77 174.19 442.50 C174.35 439.23 174.47 435.23 174.64 432.70 C174.80 430.17 174.91 428.78 175.18 427.31 C175.45 425.84 175.84 424.86 176.26 423.88 C176.68 422.90 177.16 422.17 177.70 421.43 C178.24 420.69 178.87 420.04 179.50 419.47 C180.13 418.90 180.91 418.25 181.48 418.00 C182.05 417.75 182.35 417.75 182.92 418.00 Z" fill="url(#mg)" filter="url(#fur)"/>
<g filter="url(#lum4)">
<rect x="105.20" y="416.50" width="87.70" height="51.00" fill="#000"/>
<ellipse cx="117.50" cy="449.00" rx="8.00" ry="13.00" fill="#fff" fill-opacity="0.22"/>
<ellipse cx="118.00" cy="446.80" rx="3.50" ry="6.50" fill="#fff" fill-opacity="0.38" transform="rotate(20 118 446.8)"/>
<ellipse cx="115.00" cy="458.00" rx="2.00" ry="2.00" fill="#fff" fill-opacity="0.35"/>
<ellipse cx="139.00" cy="451.00" rx="8.00" ry="13.00" fill="#fff" fill-opacity="0.22"/>
<ellipse cx="139.00" cy="448.80" rx="3.50" ry="8.00" fill="#fff" fill-opacity="0.38"/>
<ellipse cx="134.00" cy="460.00" rx="2.00" ry="2.00" fill="#fff" fill-opacity="0.35"/>
<ellipse cx="182.00" cy="455.00" rx="7.00" ry="9.00" fill="#fff" fill-opacity="0.2"/>
<ellipse cx="183.50" cy="442.00" rx="1.80" ry="1.80" fill="#fff" fill-opacity="0.4"/>
<ellipse cx="182.00" cy="458.50" rx="4.00" ry="4.00" fill="#fff" fill-opacity="0.38"/>
</g>
<rect x="105.20" y="469.60" width="87.70" height="51.60" fill="#2e2e2e"/>
<path d="M108.00 518.70 L104.40 522.20 M120.60 518.70 L124.20 522.20" stroke="#777" stroke-width="1.3"/>
<path d="M115.02 471.10 C115.59 471.35 116.37 472.01 117.00 472.59 C117.63 473.17 118.26 473.83 118.80 474.57 C119.34 475.32 119.82 476.06 120.24 477.05 C120.66 478.04 121.05 479.04 121.32 480.52 C121.59 482.01 121.69 483.42 121.86 485.98 C122.03 488.54 122.15 492.59 122.31 495.90 C122.47 499.21 122.69 502.93 122.85 505.82 C123.01 508.71 123.22 511.19 123.30 513.26 C123.38 515.33 123.42 516.98 123.30 518.22 C123.18 519.46 125.46 520.29 122.58 520.70 C119.70 521.11 108.90 521.11 106.02 520.70 C103.14 520.29 105.42 519.46 105.30 518.22 C105.18 516.98 105.22 515.33 105.30 513.26 C105.38 511.19 105.59 508.71 105.75 505.82 C105.91 502.93 106.12 499.21 106.29 495.90 C106.45 492.59 106.57 488.54 106.74 485.98 C106.91 483.42 107.01 482.01 107.28 480.52 C107.55 479.04 107.94 478.04 108.36 477.05 C108.78 476.06 109.26 475.32 109.80 474.57 C110.34 473.83 110.97 473.17 111.60 472.59 C112.23 472.01 113.01 471.35 113.58 471.10 C114.15 470.85 114.45 470.85 115.02 471.10 Z" fill="url(#mg)" filter="url(#fur)"/>
<path d="M131.20 518.70 L127.60 522.20 M143.80 518.70 L147.40 522.20" stroke="#777" stroke-width="1.3"/>
<path d="M138.22 471.10 C138.79 471.35 139.57 472.01 140.20 472.59 C140.83 473.17 141.46 473.83 142.00 474.57 C142.54 475.32 143.02 476.06 143.44 477.05 C143.86 478.04 144.25 479.04 144.52 480.52 C144.79 482.01 144.90 483.42 145.06 485.98 C145.22 488.54 145.34 492.59 145.51 495.90 C145.67 499.21 145.89 502.93 146.05 505.82 C146.22 508.71 146.43 511.19 146.50 513.26 C146.57 515.33 146.62 516.98 146.50 518.22 C146.38 519.46 148.66 520.29 145.78 520.70 C142.90 521.11 132.10 521.11 129.22 520.70 C126.34 520.29 128.62 519.46 128.50 518.22 C128.38 516.98 128.43 515.33 128.50 513.26 C128.57 511.19 128.78 508.71 128.95 505.82 C129.11 502.93 129.33 499.21 129.49 495.90 C129.66 492.59 129.78 488.54 129.94 485.98 C130.10 483.42 130.21 482.01 130.48 480.52 C130.75 479.04 131.14 478.04 131.56 477.05 C131.98 476.06 132.46 475.32 133.00 474.57 C133.54 473.83 134.17 473.17 134.80 472.59 C135.43 472.01 136.21 471.35 136.78 471.10 C137.35 470.85 137.65 470.85 138.22 471.10 Z" fill="url(#mg)" filter="url(#fur)"/>
<path d="M154.40 518.70 L150.80 522.20 M167.00 518.70 L170.60 522.20" stroke="#777" stroke-width="1.3"/>
<path d="M161.42 471.10 C161.99 471.35 162.77 472.01 163.40 472.59 C164.03 473.17 164.66 473.83 165.20 474.57 C165.74 475.32 166.22 476.06 166.64 477.05 C167.06 478.04 167.45 479.04 167.72 480.52 C167.99 482.01 168.09 483.42 168.26 485.98 C168.42 488.54 168.54 492.59 168.71 495.90 C168.87 499.21 169.09 502.93 169.25 505.82 C169.41 508.71 169.62 511.19 169.70 513.26 C169.77 515.33 169.82 516.98 169.70 518.22 C169.58 519.46 171.86 520.29 168.98 520.70 C166.10 521.11 155.30 521.11 152.42 520.70 C149.54 520.29 151.82 519.46 151.70 518.22 C151.58 516.98 151.62 515.33 151.70 513.26 C151.77 511.19 151.98 508.71 152.15 505.82 C152.31 502.93 152.53 499.21 152.69 495.90 C152.85 492.59 152.97 488.54 153.14 485.98 C153.30 483.42 153.41 482.01 153.68 480.52 C153.95 479.04 154.34 478.04 154.76 477.05 C155.18 476.06 155.66 475.32 156.20 474.57 C156.74 473.83 157.37 473.17 158.00 472.59 C158.63 472.01 159.41 471.35 159.98 471.10 C160.55 470.85 160.85 470.85 161.42 471.10 Z" fill="url(#mg)" filter="url(#fur)"/>
<path d="M176.10 518.70 L172.50 522.20 M188.70 518.70 L192.30 522.20" stroke="#777" stroke-width="1.3"/>
<path d="M183.12 471.10 C183.69 471.35 184.47 472.01 185.10 472.59 C185.73 473.17 186.36 473.83 186.90 474.57 C187.44 475.32 187.92 476.06 188.34 477.05 C188.76 478.04 189.15 479.04 189.42 480.52 C189.69 482.01 189.80 483.42 189.96 485.98 C190.12 488.54 190.25 492.59 190.41 495.90 C190.57 499.21 190.79 502.93 190.95 505.82 C191.12 508.71 191.33 511.19 191.40 513.26 C191.47 515.33 191.52 516.98 191.40 518.22 C191.28 519.46 193.56 520.29 190.68 520.70 C187.80 521.11 177.00 521.11 174.12 520.70 C171.24 520.29 173.52 519.46 173.40 518.22 C173.28 516.98 173.33 515.33 173.40 513.26 C173.47 511.19 173.69 508.71 173.85 505.82 C174.01 502.93 174.23 499.21 174.39 495.90 C174.56 492.59 174.68 488.54 174.84 485.98 C175.00 483.42 175.11 482.01 175.38 480.52 C175.65 479.04 176.04 478.04 176.46 477.05 C176.88 476.06 177.36 475.32 177.90 474.57 C178.44 473.83 179.07 473.17 179.70 472.59 C180.33 472.01 181.11 471.35 181.68 471.10 C182.25 470.85 182.55 470.85 183.12 471.10 Z" fill="url(#mg)" filter="url(#fur)"/>
<g filter="url(#lum5)">
<rect x="105.20" y="469.60" width="87.70" height="51.60" fill="#000"/>
<ellipse cx="114.00" cy="503.00" rx="8.50" ry="12.00" fill="#fff" fill-opacity="0.24"/>
<ellipse cx="114.00" cy="502.50" rx="5.00" ry="7.00" fill="#fff" fill-opacity="0.35"/>
<ellipse cx="114.00" cy="474.00" rx="1.30" ry="1.30" fill="#fff" fill-opacity="0.4"/>
<ellipse cx="138.00" cy="504.00" rx="9.00" ry="15.00" fill="#fff" fill-opacity="0.26"/>
<ellipse cx="138.00" cy="506.00" rx="6.00" ry="11.00" fill="#fff" fill-opacity="0.35"/>
<ellipse cx="138.00" cy="480.00" rx="1.50" ry="1.50" fill="#fff" fill-opacity="0.4"/>
<ellipse cx="160.00" cy="502.00" rx="8.00" ry="15.00" fill="#fff" fill-opacity="0.22"/>
<ellipse cx="160.00" cy="497.00" rx="2.00" ry="6.00" fill="#fff" fill-opacity="0.38"/>
<ellipse cx="160.00" cy="477.00" rx="1.50" ry="1.50" fill="#fff" fill-opacity="0.4"/>
<ellipse cx="160.00" cy="510.00" rx="5.00" ry="7.00" fill="#fff" fill-opacity="0.15"/>
<ellipse cx="182.00" cy="504.00" rx="8.00" ry="11.00" fill="#fff" fill-opacity="0.26"/>
<ellipse cx="181.00" cy="477.00" rx="1.20" ry="1.20" fill="#fff" fill-opacity="0.35"/>
</g>
<rect x="203.80" y="416.40" width="87.90" height="51.10" fill="#2e2e2e"/>
<path d="M227.50 465.00 L223.90 468.50 M240.10 465.00 L243.70 468.50" stroke="#777" stroke-width="1.3"/>
<path d="M234.52 417.90 C235.09 418.15 235.87 418.80 236.50 419.37 C237.13 419.95 237.76 420.60 238.30 421.34 C238.84 422.07 239.32 422.81 239.74 423.79 C240.16 424.77 240.55 425.76 240.82 427.23 C241.09 428.70 241.20 430.09 241.36 432.63 C241.53 435.17 241.65 439.18 241.81 442.45 C241.97 445.72 242.19 449.41 242.35 452.27 C242.52 455.13 242.73 457.59 242.80 459.63 C242.88 461.68 242.92 463.32 242.80 464.55 C242.68 465.77 244.96 466.59 242.08 467.00 C239.20 467.41 228.40 467.41 225.52 467.00 C222.64 466.59 224.92 465.77 224.80 464.55 C224.68 463.32 224.73 461.68 224.80 459.63 C224.88 457.59 225.09 455.13 225.25 452.27 C225.41 449.41 225.63 445.72 225.79 442.45 C225.96 439.18 226.08 435.17 226.24 432.63 C226.41 430.09 226.51 428.70 226.78 427.23 C227.05 425.76 227.44 424.77 227.86 423.79 C228.28 422.81 228.76 422.07 229.30 421.34 C229.84 420.60 230.47 419.95 231.10 419.37 C231.73 418.80 232.51 418.15 233.08 417.90 C233.65 417.65 233.95 417.65 234.52 417.90 Z" fill="url(#mg)" filter="url(#fur)"/>
<path d="M250.20 465.00 L246.60 468.50 M262.80 465.00 L266.40 468.50" stroke="#777" stroke-width="1.3"/>
<path d="M257.22 417.90 C257.79 418.15 258.57 418.80 259.20 419.37 C259.83 419.95 260.46 420.60 261.00 421.34 C261.54 422.07 262.02 422.81 262.44 423.79 C262.86 424.77 263.25 425.76 263.52 427.23 C263.79 428.70 263.89 430.09 264.06 432.63 C264.23 435.17 264.34 439.18 264.51 442.45 C264.68 445.72 264.88 449.41 265.05 452.27 C265.22 455.13 265.43 457.59 265.50 459.63 C265.57 461.68 265.62 463.32 265.50 464.55 C265.38 465.77 267.66 466.59 264.78 467.00 C261.90 467.41 251.10 467.41 248.22 467.00 C245.34 466.59 247.62 465.77 247.50 464.55 C247.38 463.32 247.43 461.68 247.50 459.63 C247.57 457.59 247.78 455.13 247.95 452.27 C248.11 449.41 248.33 445.72 248.49 442.45 C248.66 439.18 248.78 435.17 248.94 432.63 C249.10 430.09 249.21 428.70 249.48 427.23 C249.75 425.76 250.14 424.77 250.56 423.79 C250.98 422.81 251.46 422.07 252.00 421.34 C252.54 420.60 253.17 419.95 253.80 419.37 C254.43 418.80 255.21 418.15 255.78 417.90 C256.35 417.65 256.65 417.65 257.22 417.90 Z" fill="url(#mg)" filter="url(#fur)"/>
<path d="M271.00 465.00 L267.40 468.50 M283.60 465.00 L287.20 468.50" stroke="#777" stroke-width="1.3"/>
<path d="M278.02 417.90 C278.59 418.15 279.37 418.80 280.00 419.37 C280.63 419.95 281.26 420.60 281.80 421.34 C282.34 422.07 282.82 422.81 283.24 423.79 C283.66 424.77 284.05 425.76 284.32 427.23 C284.59 428.70 284.69 430.09 284.86 432.63 C285.03 435.17 285.14 439.18 285.31 442.45 C285.48 445.72 285.69 449.41 285.85 452.27 C286.02 455.13 286.23 457.59 286.30 459.63 C286.38 461.68 286.42 463.32 286.30 464.55 C286.18 465.77 288.46 466.59 285.58 467.00 C282.70 467.41 271.90 467.41 269.02 467.00 C266.14 466.59 268.42 465.77 268.30 464.55 C268.18 463.32 268.23 461.68 268.30 459.63 C268.38 457.59 268.58 455.13 268.75 452.27 C268.92 449.41 269.12 445.72 269.29 442.45 C269.46 439.18 269.57 435.17 269.74 432.63 C269.91 430.09 270.01 428.70 270.28 427.23 C270.55 425.76 270.94 424.77 271.36 423.79 C271.78 422.81 272.26 422.07 272.80 421.34 C273.34 420.60 273.97 419.95 274.60 419.37 C275.23 418.80 276.01 418.15 276.58 417.90 C277.15 417.65 277.45 417.65 278.02 417.90 Z" fill="url(#mg)" filter="url(#fur)"/>
<g filter="url(#lum6)">
<rect x="203.80" y="416.40" width="87.90" height="51.10" fill="#000"/>
<ellipse cx="233.80" cy="443.00" rx="9.00" ry="22.00" fill="#fff" fill-opacity="0.32"/>
<ellipse cx="233.80" cy="449.00" rx="7.00" ry="15.00" fill="#fff" fill-opacity="0.33"/>
<ellipse cx="233.00" cy="427.00" rx="3.50" ry="3.50" fill="#fff" fill-opacity="0.35"/>
<ellipse cx="233.50" cy="446.00" rx="2.50" ry="3.50" fill="#fff" fill-opacity="0.35"/>
<ellipse cx="234.00" cy="457.50" rx="2.50" ry="3.50" fill="#fff" fill-opacity="0.35"/>
<ellipse cx="256.50" cy="449.00" rx="9.00" ry="15.00" fill="#fff" fill-opacity="0.26"/>
<ellipse cx="257.00" cy="453.00" rx="6.00" ry="7.00" fill="#fff" fill-opacity="0.38"/>
<ellipse cx="256.00" cy="424.00" rx="1.50" ry="1.50" fill="#fff" fill-opacity="0.4"/>
<ellipse cx="255.00" cy="441.00" rx="4.00" ry="4.00" fill="#fff" fill-opacity="0.25"/>
<ellipse cx="278.00" cy="451.00" rx="8.00" ry="14.00" fill="#fff" fill-opacity="0.24"/>
<ellipse cx="280.00" cy="446.00" rx="2.50" ry="7.00" fill="#fff" fill-opacity="0.38"/>
<ellipse cx="274.00" cy="434.00" rx="1.40" ry="1.40" fill="#fff" fill-opacity="0.4"/>
<ellipse cx="276.00" cy="458.00" rx="5.00" ry="4.00" fill="#fff" fill-opacity="0.33"/>
</g>
<rect x="203.80" y="416.40" width="20.90" height="51.10" fill="#000"/>
<path d="M204.40 430.00 L208.30 430.00 L223.70 456.60 L219.80 456.60 Z M219.80 430.00 L223.70 430.00 L208.30 456.60 L204.40 456.60 Z" fill="#fff"/>
<rect x="203.80" y="469.80" width="87.90" height="50.70" fill="#2e2e2e"/>
<path d="M209.55 518.00 L206.15 521.50 M221.45 518.00 L224.85 521.50" stroke="#777" stroke-width="1.3"/>
<path d="M216.18 471.30 C216.72 471.54 217.46 472.19 218.05 472.76 C218.65 473.33 219.24 473.98 219.75 474.71 C220.26 475.44 220.71 476.17 221.11 477.14 C221.51 478.12 221.88 479.09 222.13 480.55 C222.38 482.01 222.48 483.39 222.64 485.91 C222.80 488.43 222.91 492.40 223.06 495.65 C223.22 498.90 223.42 502.55 223.57 505.39 C223.73 508.23 223.93 510.67 224.00 512.70 C224.07 514.72 224.11 516.35 224.00 517.57 C223.89 518.78 226.04 519.59 223.32 520.00 C220.60 520.41 210.40 520.41 207.68 520.00 C204.96 519.59 207.11 518.78 207.00 517.57 C206.89 516.35 206.93 514.72 207.00 512.70 C207.07 510.67 207.27 508.23 207.43 505.39 C207.58 502.55 207.78 498.90 207.94 495.65 C208.09 492.40 208.20 488.43 208.36 485.91 C208.52 483.39 208.62 482.01 208.87 480.55 C209.12 479.09 209.49 478.12 209.89 477.14 C210.29 476.17 210.74 475.44 211.25 474.71 C211.76 473.98 212.35 473.33 212.95 472.76 C213.54 472.19 214.28 471.54 214.82 471.30 C215.36 471.06 215.64 471.06 216.18 471.30 Z" fill="url(#mg)" filter="url(#fur)"/>
<path d="M250.20 518.00 L246.60 521.50 M262.80 518.00 L266.40 521.50" stroke="#777" stroke-width="1.3"/>
<path d="M257.22 471.30 C257.79 471.54 258.57 472.19 259.20 472.76 C259.83 473.33 260.46 473.98 261.00 474.71 C261.54 475.44 262.02 476.17 262.44 477.14 C262.86 478.12 263.25 479.09 263.52 480.55 C263.79 482.01 263.89 483.39 264.06 485.91 C264.23 488.43 264.34 492.40 264.51 495.65 C264.68 498.90 264.88 502.55 265.05 505.39 C265.22 508.23 265.43 510.67 265.50 512.70 C265.57 514.72 265.62 516.35 265.50 517.57 C265.38 518.78 267.66 519.59 264.78 520.00 C261.90 520.41 251.10 520.41 248.22 520.00 C245.34 519.59 247.62 518.78 247.50 517.57 C247.38 516.35 247.43 514.72 247.50 512.70 C247.57 510.67 247.78 508.23 247.95 505.39 C248.11 502.55 248.33 498.90 248.49 495.65 C248.66 492.40 248.78 488.43 248.94 485.91 C249.10 483.39 249.21 482.01 249.48 480.55 C249.75 479.09 250.14 478.12 250.56 477.14 C250.98 476.17 251.46 475.44 252.00 474.71 C252.54 473.98 253.17 473.33 253.80 472.76 C254.43 472.19 255.21 471.54 255.78 471.30 C256.35 471.06 256.65 471.06 257.22 471.30 Z" fill="url(#mg)" filter="url(#fur)"/>
<path d="M272.30 518.00 L268.70 521.50 M284.90 518.00 L288.50 521.50" stroke="#777" stroke-width="1.3"/>
<path d="M279.32 471.30 C279.89 471.54 280.67 472.19 281.30 472.76 C281.93 473.33 282.56 473.98 283.10 474.71 C283.64 475.44 284.12 476.17 284.54 477.14 C284.96 478.12 285.35 479.09 285.62 480.55 C285.89 482.01 286.00 483.39 286.16 485.91 C286.33 488.43 286.44 492.40 286.61 495.65 C286.78 498.90 286.99 502.55 287.15 505.39 C287.32 508.23 287.53 510.67 287.60 512.70 C287.68 514.72 287.72 516.35 287.60 517.57 C287.48 518.78 289.76 519.59 286.88 520.00 C284.00 520.41 273.20 520.41 270.32 520.00 C267.44 519.59 269.72 518.78 269.60 517.57 C269.48 516.35 269.53 514.72 269.60 512.70 C269.68 510.67 269.88 508.23 270.05 505.39 C270.22 502.55 270.43 498.90 270.59 495.65 C270.76 492.40 270.88 488.43 271.04 485.91 C271.21 483.39 271.31 482.01 271.58 480.55 C271.85 479.09 272.24 478.12 272.66 477.14 C273.08 476.17 273.56 475.44 274.10 474.71 C274.64 473.98 275.27 473.33 275.90 472.76 C276.53 472.19 277.31 471.54 277.88 471.30 C278.45 471.06 278.75 471.06 279.32 471.30 Z" fill="url(#mg)" filter="url(#fur)"/>
<g filter="url(#lum7)">
<rect x="203.80" y="469.80" width="87.90" height="50.70" fill="#000"/>
<ellipse cx="215.50" cy="494.00" rx="8.50" ry="22.00" fill="#fff" fill-opacity="0.32"/>
<ellipse cx="215.50" cy="498.00" rx="6.50" ry="15.00" fill="#fff" fill-opacity="0.33"/>
<ellipse cx="216.00" cy="499.00" rx="3.20" ry="10.00" fill="#fff" fill-opacity="0.33"/>
<ellipse cx="216.00" cy="496.00" rx="1.70" ry="4.50" fill="#fff" fill-opacity="0.42"/>
<ellipse cx="215.50" cy="478.00" rx="3.00" ry="3.00" fill="#fff" fill-opacity="0.35"/>
<ellipse cx="256.00" cy="504.00" rx="8.50" ry="15.00" fill="#fff" fill-opacity="0.24"/>
<ellipse cx="256.00" cy="501.00" rx="3.50" ry="9.50" fill="#fff" fill-opacity="0.38"/>
<ellipse cx="254.00" cy="512.00" rx="4.00" ry="3.50" fill="#fff" fill-opacity="0.35"/>
<ellipse cx="279.00" cy="506.00" rx="8.00" ry="13.00" fill="#fff" fill-opacity="0.22"/>
<ellipse cx="279.00" cy="503.00" rx="3.50" ry="7.50" fill="#fff" fill-opacity="0.38"/>
<ellipse cx="278.00" cy="516.00" rx="3.50" ry="2.50" fill="#fff" fill-opacity="0.35"/>
</g>
<rect x="225.60" y="469.80" width="21.50" height="50.70" fill="#000"/>
<path d="M227.00 482.50 L230.90 482.50 L246.00 509.60 L242.10 509.60 Z M242.10 482.50 L246.00 482.50 L230.90 509.60 L227.00 509.60 Z" fill="#fff"/>
</g>
<text x="3.00" y="10.30" font-size="10.5" font-weight="bold" fill="#000">A</text>
<text x="163.00" y="10.30" font-size="10.5" font-weight="bold" fill="#000">B</text>
<text x="297.50" y="11.50" font-size="10.5" font-weight="bold" fill="#000">C</text>
<text x="3.30" y="193.80" font-size="10.5" font-weight="bold" fill="#000">D</text>
<text x="261.50" y="193.80" font-size="10.5" font-weight="bold" fill="#000">E</text>
<text x="356.50" y="408.80" font-size="10.5" font-weight="bold" fill="#000">F</text>
<line x1="43.50" y1="31.00" x2="43.50" y2="137.80" stroke="#231f20" stroke-width="1" />
<line x1="40.50" y1="137.30" x2="43.50" y2="137.30" stroke="#231f20" stroke-width="1" />
<text x="38.00" y="140.50" font-size="9" text-anchor="end" textLength="4.6" lengthAdjust="spacingAndGlyphs">0</text>
<line x1="40.50" y1="116.84" x2="43.50" y2="116.84" stroke="#231f20" stroke-width="1" />
<text x="38.00" y="120.04" font-size="9" text-anchor="end" textLength="13.799999999999999" lengthAdjust="spacingAndGlyphs">200</text>
<line x1="40.50" y1="96.38" x2="43.50" y2="96.38" stroke="#231f20" stroke-width="1" />
<text x="38.00" y="99.58" font-size="9" text-anchor="end" textLength="13.799999999999999" lengthAdjust="spacingAndGlyphs">400</text>
<line x1="40.50" y1="75.92" x2="43.50" y2="75.92" stroke="#231f20" stroke-width="1" />
<text x="38.00" y="79.12" font-size="9" text-anchor="end" textLength="13.799999999999999" lengthAdjust="spacingAndGlyphs">600</text>
<line x1="40.50" y1="55.46" x2="43.50" y2="55.46" stroke="#231f20" stroke-width="1" />
<text x="38.00" y="58.66" font-size="9" text-anchor="end" textLength="13.799999999999999" lengthAdjust="spacingAndGlyphs">800</text>
<line x1="40.50" y1="35.00" x2="43.50" y2="35.00" stroke="#231f20" stroke-width="1" />
<text x="38.00" y="38.20" font-size="9" text-anchor="end" textLength="18.4" lengthAdjust="spacingAndGlyphs">1000</text>
<line x1="43.00" y1="137.30" x2="145.70" y2="137.30" stroke="#231f20" stroke-width="1" />
<line x1="67.20" y1="137.30" x2="67.20" y2="139.80" stroke="#231f20" stroke-width="1" />
<line x1="120.80" y1="137.30" x2="120.80" y2="139.80" stroke="#231f20" stroke-width="1" />
<text x="67.20" y="151.00" font-size="9" text-anchor="middle" textLength="4.6" lengthAdjust="spacingAndGlyphs">0</text>
<text x="120.80" y="151.00" font-size="9" text-anchor="middle" textLength="9.2" lengthAdjust="spacingAndGlyphs">21</text>
<text x="94.70" y="165.20" font-size="10.5" text-anchor="middle" textLength="71.5" lengthAdjust="spacingAndGlyphs">Days after treatment</text>
<text x="12.6" y="125" font-size="9.4" transform="rotate(-90 12.6 125)" textLength="79" lengthAdjust="spacingAndGlyphs" fill="#231f20">Tumor volume (mm<tspan font-size="6.5" dy="-3.5">3</tspan><tspan dy="3.5">)</tspan></text>
<circle cx="48.60" cy="37.00" r="1.9" fill="#1c4d8c" />
<text x="53.80" y="40.20" font-size="9" textLength="11.6" lengthAdjust="spacingAndGlyphs">NC</text>
<circle cx="48.60" cy="49.00" r="1.9" fill="#c8102e" />
<text x="53.80" y="52.20" font-size="9" textLength="6" lengthAdjust="spacingAndGlyphs">G</text>
<circle cx="48.60" cy="60.80" r="1.9" fill="#3aaa3a" />
<text x="53.80" y="64.00" font-size="9" textLength="5.4" lengthAdjust="spacingAndGlyphs">B</text>
<line x1="45.80" y1="110.30" x2="93.00" y2="110.30" stroke="#333" stroke-width="0.9" />
<text x="69.30" y="108.40" font-size="8" text-anchor="middle" textLength="7" lengthAdjust="spacingAndGlyphs" font-style="italic">ns</text>
<line x1="101.00" y1="34.80" x2="147.50" y2="34.80" stroke="#555" stroke-width="1.1" />
<text x="123.00" y="34.00" font-size="8" text-anchor="middle" textLength="6" lengthAdjust="spacingAndGlyphs">**</text>
<circle cx="49.50" cy="131.20" r="1.9" fill="#1c4d8c" />
<circle cx="52.50" cy="130.20" r="1.9" fill="#1c4d8c" />
<circle cx="55.50" cy="131.50" r="1.9" fill="#1c4d8c" />
<circle cx="51.00" cy="133.00" r="1.9" fill="#1c4d8c" />
<circle cx="56.50" cy="133.00" r="1.9" fill="#1c4d8c" />
<circle cx="64.50" cy="131.50" r="1.9" fill="#c8102e" />
<circle cx="67.50" cy="130.50" r="1.9" fill="#c8102e" />
<circle cx="70.00" cy="132.00" r="1.9" fill="#c8102e" />
<circle cx="65.50" cy="133.50" r="1.9" fill="#c8102e" />
<circle cx="69.50" cy="133.60" r="1.9" fill="#c8102e" />
<circle cx="79.50" cy="131.50" r="1.9" fill="#3aaa3a" />
<circle cx="82.50" cy="131.80" r="1.9" fill="#3aaa3a" />
<circle cx="85.00" cy="132.50" r="1.9" fill="#3aaa3a" />
<circle cx="80.50" cy="133.50" r="1.9" fill="#3aaa3a" />
<circle cx="84.50" cy="133.50" r="1.9" fill="#3aaa3a" />
<circle cx="106.30" cy="44.80" r="1.9" fill="#1c4d8c" />
<circle cx="106.30" cy="50.20" r="1.9" fill="#1c4d8c" />
<circle cx="106.30" cy="55.20" r="1.9" fill="#1c4d8c" />
<circle cx="106.30" cy="65.00" r="1.9" fill="#1c4d8c" />
<circle cx="106.30" cy="69.80" r="1.9" fill="#1c4d8c" />
<circle cx="121.00" cy="111.40" r="1.9" fill="#c8102e" />
<circle cx="118.00" cy="120.60" r="1.9" fill="#c8102e" />
<circle cx="118.00" cy="126.00" r="1.9" fill="#c8102e" />
<circle cx="123.90" cy="123.80" r="1.9" fill="#c8102e" />
<circle cx="120.30" cy="123.20" r="1.9" fill="#c8102e" />
<circle cx="132.70" cy="108.50" r="1.9" fill="#3aaa3a" />
<circle cx="138.30" cy="111.70" r="1.9" fill="#3aaa3a" />
<circle cx="132.50" cy="117.30" r="1.9" fill="#3aaa3a" />
<circle cx="138.60" cy="118.00" r="1.9" fill="#3aaa3a" />
<circle cx="135.50" cy="125.10" r="1.9" fill="#3aaa3a" />
<line x1="101.40" y1="55.20" x2="111.20" y2="55.20" stroke="#222" stroke-width="1" />
<line x1="116.50" y1="123.30" x2="124.50" y2="123.30" stroke="#222" stroke-width="1" />
<line x1="131.00" y1="117.60" x2="140.50" y2="117.60" stroke="#222" stroke-width="1" />
<line x1="209.50" y1="30.00" x2="209.50" y2="137.30" stroke="#231f20" stroke-width="1" />
<line x1="206.30" y1="136.80" x2="209.50" y2="136.80" stroke="#231f20" stroke-width="1" />
<text x="204.30" y="140.00" font-size="9" text-anchor="end" textLength="4.6" lengthAdjust="spacingAndGlyphs">0</text>
<line x1="206.30" y1="116.44" x2="209.50" y2="116.44" stroke="#231f20" stroke-width="1" />
<text x="204.30" y="119.64" font-size="9" text-anchor="end" textLength="9.2" lengthAdjust="spacingAndGlyphs">20</text>
<line x1="206.30" y1="96.08" x2="209.50" y2="96.08" stroke="#231f20" stroke-width="1" />
<text x="204.30" y="99.28" font-size="9" text-anchor="end" textLength="9.2" lengthAdjust="spacingAndGlyphs">40</text>
<line x1="206.30" y1="75.72" x2="209.50" y2="75.72" stroke="#231f20" stroke-width="1" />
<text x="204.30" y="78.92" font-size="9" text-anchor="end" textLength="9.2" lengthAdjust="spacingAndGlyphs">60</text>
<line x1="206.30" y1="55.36" x2="209.50" y2="55.36" stroke="#231f20" stroke-width="1" />
<text x="204.30" y="58.56" font-size="9" text-anchor="end" textLength="9.2" lengthAdjust="spacingAndGlyphs">80</text>
<line x1="206.30" y1="35.00" x2="209.50" y2="35.00" stroke="#231f20" stroke-width="1" />
<text x="204.30" y="38.20" font-size="9" text-anchor="end" textLength="13.799999999999999" lengthAdjust="spacingAndGlyphs">100</text>
<line x1="209.00" y1="136.80" x2="278.00" y2="136.80" stroke="#231f20" stroke-width="1" />
<rect x="216.60" y="35.00" width="13.10" height="101.80" fill="#1c4d8c"/>
<line x1="223.15" y1="137.30" x2="223.15" y2="139.30" stroke="#231f20" stroke-width="1" />
<rect x="237.00" y="77.76" width="13.00" height="59.04" fill="#c8102e"/>
<line x1="243.50" y1="137.30" x2="243.50" y2="139.30" stroke="#231f20" stroke-width="1" />
<line x1="243.50" y1="77.76" x2="243.50" y2="72.46" stroke="#333" stroke-width="1.1" />
<line x1="240.00" y1="72.46" x2="247.00" y2="72.46" stroke="#333" stroke-width="1.1" />
<rect x="257.70" y="95.77" width="13.10" height="41.03" fill="#3aaa3a"/>
<line x1="264.25" y1="137.30" x2="264.25" y2="139.30" stroke="#231f20" stroke-width="1" />
<line x1="264.25" y1="95.77" x2="264.25" y2="90.99" stroke="#333" stroke-width="1.1" />
<line x1="260.75" y1="90.99" x2="267.75" y2="90.99" stroke="#333" stroke-width="1.1" />
<text x="223.00" y="151.00" font-size="9" text-anchor="middle" textLength="11" lengthAdjust="spacingAndGlyphs">NC</text>
<text x="243.50" y="151.00" font-size="9" text-anchor="middle" textLength="6" lengthAdjust="spacingAndGlyphs">G</text>
<text x="264.00" y="151.00" font-size="9" text-anchor="middle" textLength="5.4" lengthAdjust="spacingAndGlyphs">B</text>
<line x1="219.00" y1="27.00" x2="271.80" y2="27.00" stroke="#666" stroke-width="1.2" />
<text x="245.00" y="26.00" font-size="8" text-anchor="middle">*</text>
<text x="170.50" y="135.00" font-size="9.2" textLength="104" lengthAdjust="spacingAndGlyphs" transform="rotate(-90 170.50 135.00)">Relative lnc-17-92 expression</text>
<text x="182.00" y="99.70" font-size="9.2" textLength="32.2" lengthAdjust="spacingAndGlyphs" transform="rotate(-90 182.00 99.70)">(% of NC)</text>
<line x1="344.50" y1="26.50" x2="344.50" y2="137.60" stroke="#231f20" stroke-width="1" />
<line x1="341.30" y1="137.10" x2="344.50" y2="137.10" stroke="#231f20" stroke-width="1" />
<text x="340.60" y="140.30" font-size="9" text-anchor="end" textLength="4.6" lengthAdjust="spacingAndGlyphs">0</text>
<line x1="341.30" y1="115.70" x2="344.50" y2="115.70" stroke="#231f20" stroke-width="1" />
<text x="340.60" y="118.90" font-size="9" text-anchor="end" textLength="9.2" lengthAdjust="spacingAndGlyphs">20</text>
<line x1="341.30" y1="94.30" x2="344.50" y2="94.30" stroke="#231f20" stroke-width="1" />
<text x="340.60" y="97.50" font-size="9" text-anchor="end" textLength="9.2" lengthAdjust="spacingAndGlyphs">40</text>
<line x1="341.30" y1="72.90" x2="344.50" y2="72.90" stroke="#231f20" stroke-width="1" />
<text x="340.60" y="76.10" font-size="9" text-anchor="end" textLength="9.2" lengthAdjust="spacingAndGlyphs">60</text>
<line x1="341.30" y1="51.50" x2="344.50" y2="51.50" stroke="#231f20" stroke-width="1" />
<text x="340.60" y="54.70" font-size="9" text-anchor="end" textLength="9.2" lengthAdjust="spacingAndGlyphs">80</text>
<line x1="341.30" y1="30.10" x2="344.50" y2="30.10" stroke="#231f20" stroke-width="1" />
<text x="340.60" y="33.30" font-size="9" text-anchor="end" textLength="13.799999999999999" lengthAdjust="spacingAndGlyphs">100</text>
<line x1="344.00" y1="137.10" x2="505.60" y2="137.10" stroke="#231f20" stroke-width="1" />
<rect x="347.50" y="30.10" width="3.90" height="107.00" fill="#1c4d8c"/>
<rect x="353.80" y="93.02" width="3.90" height="44.08" fill="#c8102e"/>
<rect x="360.00" y="98.15" width="3.90" height="38.95" fill="#3aaa3a"/>
<line x1="355.75" y1="93.02" x2="355.75" y2="87.34" stroke="#333" stroke-width="0.9" />
<line x1="354.25" y1="87.34" x2="357.25" y2="87.34" stroke="#333" stroke-width="0.9" />
<line x1="361.95" y1="98.15" x2="361.95" y2="93.02" stroke="#333" stroke-width="0.9" />
<line x1="360.45" y1="93.02" x2="363.45" y2="93.02" stroke="#333" stroke-width="0.9" />
<line x1="355.75" y1="137.60" x2="355.75" y2="140.10" stroke="#231f20" stroke-width="1" />
<line x1="353.50" y1="76.50" x2="364.90" y2="76.50" stroke="#333" stroke-width="1" />
<text x="358.85" y="74.50" font-size="7.5" text-anchor="middle">*</text>
<text x="360.75" y="146.80" font-size="9" text-anchor="end" textLength="27.5" lengthAdjust="spacingAndGlyphs" transform="rotate(-45 360.75 146.80)">ACACA</text>
<rect x="370.82" y="30.10" width="3.90" height="107.00" fill="#1c4d8c"/>
<rect x="377.12" y="81.46" width="3.90" height="55.64" fill="#c8102e"/>
<rect x="383.32" y="91.95" width="3.90" height="45.15" fill="#3aaa3a"/>
<line x1="379.07" y1="81.46" x2="379.07" y2="76.11" stroke="#333" stroke-width="0.9" />
<line x1="377.57" y1="76.11" x2="380.57" y2="76.11" stroke="#333" stroke-width="0.9" />
<line x1="385.27" y1="91.95" x2="385.27" y2="86.49" stroke="#333" stroke-width="0.9" />
<line x1="383.77" y1="86.49" x2="386.77" y2="86.49" stroke="#333" stroke-width="0.9" />
<line x1="379.07" y1="137.60" x2="379.07" y2="140.10" stroke="#231f20" stroke-width="1" />
<line x1="376.82" y1="66.00" x2="388.22" y2="66.00" stroke="#333" stroke-width="1" />
<text x="382.17" y="64.00" font-size="7.5" text-anchor="middle">*</text>
<text x="384.07" y="146.80" font-size="9" text-anchor="end" textLength="22" lengthAdjust="spacingAndGlyphs" transform="rotate(-45 384.07 146.80)">ANO6</text>
<rect x="394.14" y="30.10" width="3.90" height="107.00" fill="#1c4d8c"/>
<rect x="400.44" y="77.93" width="3.90" height="59.17" fill="#c8102e"/>
<rect x="406.64" y="92.69" width="3.90" height="44.41" fill="#3aaa3a"/>
<line x1="402.39" y1="77.93" x2="402.39" y2="72.26" stroke="#333" stroke-width="0.9" />
<line x1="400.89" y1="72.26" x2="403.89" y2="72.26" stroke="#333" stroke-width="0.9" />
<line x1="408.59" y1="92.69" x2="408.59" y2="87.34" stroke="#333" stroke-width="0.9" />
<line x1="407.09" y1="87.34" x2="410.09" y2="87.34" stroke="#333" stroke-width="0.9" />
<line x1="402.39" y1="137.60" x2="402.39" y2="140.10" stroke="#231f20" stroke-width="1" />
<line x1="400.14" y1="66.00" x2="411.54" y2="66.00" stroke="#333" stroke-width="1" />
<text x="405.49" y="64.00" font-size="7.5" text-anchor="middle">*</text>
<text x="407.39" y="146.80" font-size="9" text-anchor="end" textLength="33" lengthAdjust="spacingAndGlyphs" transform="rotate(-45 407.39 146.80)">CCDC91</text>
<rect x="417.46" y="30.10" width="3.90" height="107.00" fill="#1c4d8c"/>
<rect x="423.76" y="67.55" width="3.90" height="69.55" fill="#c8102e"/>
<rect x="429.96" y="72.58" width="3.90" height="64.52" fill="#3aaa3a"/>
<line x1="425.71" y1="67.55" x2="425.71" y2="62.20" stroke="#333" stroke-width="0.9" />
<line x1="424.21" y1="62.20" x2="427.21" y2="62.20" stroke="#333" stroke-width="0.9" />
<line x1="431.91" y1="72.58" x2="431.91" y2="67.12" stroke="#333" stroke-width="0.9" />
<line x1="430.41" y1="67.12" x2="433.41" y2="67.12" stroke="#333" stroke-width="0.9" />
<line x1="425.71" y1="137.60" x2="425.71" y2="140.10" stroke="#231f20" stroke-width="1" />
<line x1="423.46" y1="52.40" x2="434.86" y2="52.40" stroke="#333" stroke-width="1" />
<text x="428.81" y="50.40" font-size="7.5" text-anchor="middle">*</text>
<text x="430.71" y="146.80" font-size="9" text-anchor="end" textLength="19" lengthAdjust="spacingAndGlyphs" transform="rotate(-45 430.71 146.80)">EPT1</text>
<rect x="440.78" y="30.10" width="3.90" height="107.00" fill="#1c4d8c"/>
<rect x="447.08" y="64.34" width="3.90" height="72.76" fill="#c8102e"/>
<rect x="453.28" y="87.02" width="3.90" height="50.08" fill="#3aaa3a"/>
<line x1="449.03" y1="64.34" x2="449.03" y2="59.42" stroke="#333" stroke-width="0.9" />
<line x1="447.53" y1="59.42" x2="450.53" y2="59.42" stroke="#333" stroke-width="0.9" />
<line x1="455.23" y1="87.02" x2="455.23" y2="81.57" stroke="#333" stroke-width="0.9" />
<line x1="453.73" y1="81.57" x2="456.73" y2="81.57" stroke="#333" stroke-width="0.9" />
<line x1="449.03" y1="137.60" x2="449.03" y2="140.10" stroke="#231f20" stroke-width="1" />
<line x1="446.78" y1="52.40" x2="458.18" y2="52.40" stroke="#333" stroke-width="1" />
<text x="452.13" y="50.40" font-size="7.5" text-anchor="middle">*</text>
<text x="454.03" y="146.80" font-size="9" text-anchor="end" textLength="19" lengthAdjust="spacingAndGlyphs" transform="rotate(-45 454.03 146.80)">EXT1</text>
<rect x="464.10" y="30.10" width="3.90" height="107.00" fill="#1c4d8c"/>
<rect x="470.40" y="78.36" width="3.90" height="58.74" fill="#c8102e"/>
<rect x="476.60" y="91.30" width="3.90" height="45.80" fill="#3aaa3a"/>
<line x1="472.35" y1="78.36" x2="472.35" y2="73.01" stroke="#333" stroke-width="0.9" />
<line x1="470.85" y1="73.01" x2="473.85" y2="73.01" stroke="#333" stroke-width="0.9" />
<line x1="478.55" y1="91.30" x2="478.55" y2="85.53" stroke="#333" stroke-width="0.9" />
<line x1="477.05" y1="85.53" x2="480.05" y2="85.53" stroke="#333" stroke-width="0.9" />
<line x1="472.35" y1="137.60" x2="472.35" y2="140.10" stroke="#231f20" stroke-width="1" />
<line x1="470.10" y1="52.40" x2="481.50" y2="52.40" stroke="#333" stroke-width="1" />
<text x="475.45" y="50.40" font-size="7.5" text-anchor="middle">*</text>
<text x="477.35" y="146.80" font-size="9" text-anchor="end" textLength="15" lengthAdjust="spacingAndGlyphs" transform="rotate(-45 477.35 146.80)">FER</text>
<rect x="487.42" y="30.10" width="3.90" height="107.00" fill="#1c4d8c"/>
<rect x="493.72" y="74.50" width="3.90" height="62.60" fill="#c8102e"/>
<rect x="499.92" y="94.51" width="3.90" height="42.59" fill="#3aaa3a"/>
<line x1="495.67" y1="74.50" x2="495.67" y2="69.26" stroke="#333" stroke-width="0.9" />
<line x1="494.17" y1="69.26" x2="497.17" y2="69.26" stroke="#333" stroke-width="0.9" />
<line x1="501.87" y1="94.51" x2="501.87" y2="89.48" stroke="#333" stroke-width="0.9" />
<line x1="500.37" y1="89.48" x2="503.37" y2="89.48" stroke="#333" stroke-width="0.9" />
<line x1="495.67" y1="137.60" x2="495.67" y2="140.10" stroke="#231f20" stroke-width="1" />
<line x1="493.42" y1="52.30" x2="504.82" y2="52.30" stroke="#333" stroke-width="1" />
<text x="498.77" y="50.30" font-size="7.5" text-anchor="middle">*</text>
<text x="500.67" y="146.80" font-size="9" text-anchor="end" textLength="33" lengthAdjust="spacingAndGlyphs" transform="rotate(-45 500.67 146.80)">ZYG11A</text>
<rect x="382.30" y="10.60" width="11.40" height="7.40" fill="#1c4d8c"/>
<text x="397.00" y="17.40" font-size="9" textLength="12" lengthAdjust="spacingAndGlyphs">NC</text>
<rect x="418.70" y="10.60" width="11.40" height="7.40" fill="#c8102e"/>
<text x="433.00" y="17.40" font-size="9" textLength="6" lengthAdjust="spacingAndGlyphs">G</text>
<rect x="448.90" y="10.60" width="11.40" height="7.40" fill="#3aaa3a"/>
<text x="464.00" y="17.40" font-size="9" textLength="5.4" lengthAdjust="spacingAndGlyphs">B</text>
<text x="306.40" y="117.50" font-size="9.2" textLength="67" lengthAdjust="spacingAndGlyphs" transform="rotate(-90 306.40 117.50)">Relative RNA levels</text>
<text x="319.60" y="100.90" font-size="9.2" textLength="34.5" lengthAdjust="spacingAndGlyphs" transform="rotate(-90 319.60 100.90)">(% of NC)</text>
<line x1="97.50" y1="212.50" x2="97.50" y2="341.30" stroke="#231f20" stroke-width="1" />
<line x1="94.50" y1="340.80" x2="97.50" y2="340.80" stroke="#231f20" stroke-width="1" />
<text x="91.50" y="344.00" font-size="9" text-anchor="end" textLength="4.6" lengthAdjust="spacingAndGlyphs">0</text>
<line x1="94.50" y1="316.14" x2="97.50" y2="316.14" stroke="#231f20" stroke-width="1" />
<text x="68.5" y="319.34" font-size="9" fill="#231f20"><tspan textLength="17.5" lengthAdjust="spacingAndGlyphs">1×10</tspan><tspan font-size="6" dy="-3.6">6</tspan></text>
<line x1="94.50" y1="291.48" x2="97.50" y2="291.48" stroke="#231f20" stroke-width="1" />
<text x="68.5" y="294.68" font-size="9" fill="#231f20"><tspan textLength="17.5" lengthAdjust="spacingAndGlyphs">2×10</tspan><tspan font-size="6" dy="-3.6">6</tspan></text>
<line x1="94.50" y1="266.82" x2="97.50" y2="266.82" stroke="#231f20" stroke-width="1" />
<text x="68.5" y="270.02" font-size="9" fill="#231f20"><tspan textLength="17.5" lengthAdjust="spacingAndGlyphs">3×10</tspan><tspan font-size="6" dy="-3.6">6</tspan></text>
<line x1="94.50" y1="242.16" x2="97.50" y2="242.16" stroke="#231f20" stroke-width="1" />
<text x="68.5" y="245.36" font-size="9" fill="#231f20"><tspan textLength="17.5" lengthAdjust="spacingAndGlyphs">4×10</tspan><tspan font-size="6" dy="-3.6">6</tspan></text>
<line x1="94.50" y1="217.50" x2="97.50" y2="217.50" stroke="#231f20" stroke-width="1" />
<text x="68.5" y="220.70" font-size="9" fill="#231f20"><tspan textLength="17.5" lengthAdjust="spacingAndGlyphs">5×10</tspan><tspan font-size="6" dy="-3.6">6</tspan></text>
<line x1="97.00" y1="340.80" x2="180.80" y2="340.80" stroke="#231f20" stroke-width="1" />
<line x1="114.20" y1="340.80" x2="114.20" y2="343.30" stroke="#231f20" stroke-width="1" />
<text x="114.20" y="354.70" font-size="9" text-anchor="middle" textLength="11" lengthAdjust="spacingAndGlyphs">NC</text>
<line x1="139.50" y1="340.80" x2="139.50" y2="343.30" stroke="#231f20" stroke-width="1" />
<text x="139.50" y="354.70" font-size="9" text-anchor="middle" textLength="6" lengthAdjust="spacingAndGlyphs">G</text>
<line x1="164.20" y1="340.80" x2="164.20" y2="343.30" stroke="#231f20" stroke-width="1" />
<text x="164.20" y="354.70" font-size="9" text-anchor="middle" textLength="5.4" lengthAdjust="spacingAndGlyphs">B</text>
<line x1="111.40" y1="235.80" x2="141.00" y2="235.80" stroke="#333" stroke-width="1" />
<text x="125.00" y="235.60" font-size="7.5" text-anchor="middle" textLength="9" lengthAdjust="spacingAndGlyphs">***</text>
<line x1="111.40" y1="212.90" x2="166.50" y2="212.90" stroke="#333" stroke-width="1" />
<text x="139.00" y="212.60" font-size="7.5" text-anchor="middle">*</text>
<text x="62.80" y="314.40" font-size="9" textLength="71.4" lengthAdjust="spacingAndGlyphs" transform="rotate(-90 62.80 314.40)">Tumor burdern (BLI)</text>
<circle cx="114.10" cy="246.20" r="1.7" fill="#1c4d8c" />
<circle cx="114.10" cy="262.20" r="1.7" fill="#1c4d8c" />
<circle cx="114.10" cy="279.40" r="1.7" fill="#1c4d8c" />
<circle cx="110.60" cy="289.20" r="1.7" fill="#1c4d8c" />
<circle cx="118.00" cy="289.20" r="1.7" fill="#1c4d8c" />
<circle cx="110.60" cy="296.00" r="1.7" fill="#1c4d8c" />
<circle cx="117.50" cy="296.00" r="1.7" fill="#1c4d8c" />
<circle cx="114.10" cy="303.50" r="1.7" fill="#1c4d8c" />
<circle cx="110.60" cy="310.00" r="1.7" fill="#1c4d8c" />
<circle cx="118.00" cy="310.00" r="1.7" fill="#1c4d8c" />
<circle cx="114.10" cy="317.50" r="1.7" fill="#1c4d8c" />
<line x1="106.20" y1="294.10" x2="122.70" y2="294.10" stroke="#000" stroke-width="2.8" />
<line x1="131.20" y1="333.80" x2="146.80" y2="333.80" stroke="#000" stroke-width="2.8" />
<circle cx="138.90" cy="325.90" r="1.7" fill="#c8143c" />
<circle cx="141.30" cy="330.00" r="1.7" fill="#c8143c" />
<circle cx="136.70" cy="331.90" r="1.7" fill="#c8143c" />
<circle cx="141.10" cy="333.60" r="1.7" fill="#c8143c" />
<circle cx="145.60" cy="333.60" r="1.7" fill="#c8143c" />
<circle cx="139.00" cy="338.20" r="1.7" fill="#c8143c" />
<circle cx="134.80" cy="341.00" r="1.7" fill="#c8143c" />
<circle cx="143.00" cy="341.00" r="1.7" fill="#c8143c" />
<circle cx="163.90" cy="262.00" r="1.8" fill="#3c8c58" />
<circle cx="163.90" cy="277.90" r="1.8" fill="#3c8c58" />
<circle cx="163.90" cy="331.80" r="1.8" fill="#3c8c58" />
<circle cx="163.70" cy="320.60" r="1.8" fill="#3c8c58" />
<line x1="155.70" y1="318.30" x2="171.80" y2="318.30" stroke="#000" stroke-width="3.0" />
<circle cx="157.3" cy="318.3" r="1.6" fill="none" stroke="#3c8c58" stroke-width="0.8"/>
<circle cx="163.7" cy="318.6" r="1.6" fill="none" stroke="#3c8c58" stroke-width="0.8"/>
<circle cx="170.3" cy="318.3" r="1.6" fill="none" stroke="#3c8c58" stroke-width="0.8"/>
<line x1="298.30" y1="195.00" x2="298.30" y2="208.00" stroke="#111" stroke-width="0.9" />
<path d="M296.70 207.2 L299.90 207.2 L298.30 210.8 Z" fill="#111"/>
<line x1="302.72" y1="195.00" x2="302.72" y2="208.00" stroke="#111" stroke-width="0.9" />
<path d="M301.12 207.2 L304.32 207.2 L302.72 210.8 Z" fill="#111"/>
<line x1="307.14" y1="195.00" x2="307.14" y2="208.00" stroke="#111" stroke-width="0.9" />
<path d="M305.54 207.2 L308.74 207.2 L307.14 210.8 Z" fill="#111"/>
<line x1="311.56" y1="195.00" x2="311.56" y2="208.00" stroke="#111" stroke-width="0.9" />
<path d="M309.96 207.2 L313.16 207.2 L311.56 210.8 Z" fill="#111"/>
<line x1="315.98" y1="195.00" x2="315.98" y2="208.00" stroke="#111" stroke-width="0.9" />
<path d="M314.38 207.2 L317.58 207.2 L315.98 210.8 Z" fill="#111"/>
<line x1="320.40" y1="195.00" x2="320.40" y2="208.00" stroke="#111" stroke-width="0.9" />
<path d="M318.80 207.2 L322.00 207.2 L320.40 210.8 Z" fill="#111"/>
<line x1="296.50" y1="213.00" x2="296.50" y2="341.60" stroke="#231f20" stroke-width="1" />
<line x1="293.50" y1="341.10" x2="296.50" y2="341.10" stroke="#231f20" stroke-width="1" />
<text x="289.90" y="344.10" font-size="8.6" text-anchor="end" textLength="4.4" lengthAdjust="spacingAndGlyphs">0</text>
<line x1="293.50" y1="316.30" x2="296.50" y2="316.30" stroke="#231f20" stroke-width="1" />
<text x="289.90" y="319.30" font-size="8.6" text-anchor="end" textLength="8.8" lengthAdjust="spacingAndGlyphs">20</text>
<line x1="293.50" y1="291.50" x2="296.50" y2="291.50" stroke="#231f20" stroke-width="1" />
<text x="289.90" y="294.50" font-size="8.6" text-anchor="end" textLength="8.8" lengthAdjust="spacingAndGlyphs">40</text>
<line x1="293.50" y1="266.70" x2="296.50" y2="266.70" stroke="#231f20" stroke-width="1" />
<text x="289.90" y="269.70" font-size="8.6" text-anchor="end" textLength="8.8" lengthAdjust="spacingAndGlyphs">60</text>
<line x1="293.50" y1="241.90" x2="296.50" y2="241.90" stroke="#231f20" stroke-width="1" />
<text x="289.90" y="244.90" font-size="8.6" text-anchor="end" textLength="8.8" lengthAdjust="spacingAndGlyphs">80</text>
<line x1="293.50" y1="217.10" x2="296.50" y2="217.10" stroke="#231f20" stroke-width="1" />
<text x="289.90" y="220.10" font-size="8.6" text-anchor="end" textLength="13.200000000000001" lengthAdjust="spacingAndGlyphs">100</text>
<line x1="296.00" y1="341.10" x2="433.20" y2="341.10" stroke="#231f20" stroke-width="1" />
<line x1="296.50" y1="341.10" x2="296.50" y2="343.60" stroke="#231f20" stroke-width="1" />
<text x="296.50" y="354.80" font-size="8.6" text-anchor="middle" textLength="4.4" lengthAdjust="spacingAndGlyphs">0</text>
<line x1="341.30" y1="341.10" x2="341.30" y2="343.60" stroke="#231f20" stroke-width="1" />
<text x="341.30" y="354.80" font-size="8.6" text-anchor="middle" textLength="8.8" lengthAdjust="spacingAndGlyphs">20</text>
<line x1="386.10" y1="341.10" x2="386.10" y2="343.60" stroke="#231f20" stroke-width="1" />
<text x="386.10" y="354.80" font-size="8.6" text-anchor="middle" textLength="8.8" lengthAdjust="spacingAndGlyphs">40</text>
<line x1="430.90" y1="341.10" x2="430.90" y2="343.60" stroke="#231f20" stroke-width="1" />
<text x="430.90" y="354.80" font-size="8.6" text-anchor="middle" textLength="8.8" lengthAdjust="spacingAndGlyphs">60</text>
<text x="363.20" y="368.00" font-size="9.9" text-anchor="middle" textLength="17.3" lengthAdjust="spacingAndGlyphs">Time</text>
<text x="271.20" y="293.20" font-size="9.2" textLength="28" lengthAdjust="spacingAndGlyphs" transform="rotate(-90 271.20 293.20)">Survival</text>
<line x1="296.50" y1="279.40" x2="436.00" y2="279.40" stroke="#555" stroke-width="1" stroke-dasharray="1 3.7"/>
<path d="M296.50 217.10 L343.54 217.10 L343.54 237.81 L359.22 237.81 L359.22 258.39 L374.90 258.39 L374.90 279.10 L386.10 279.10 L386.10 299.81 L397.30 299.81 L397.30 341.10" fill="none" stroke="#3aaa3a" stroke-width="1.3"/>
<path d="M296.50 217.10 L386.10 217.10 L386.10 237.81 L397.30 237.81 L397.30 258.39 L408.50 258.39 L408.50 299.81 L430.90 299.81" fill="none" stroke="#c8102e" stroke-width="1.3"/>
<path d="M296.50 217.10 L336.82 217.10 L336.82 258.39 L341.30 258.39 L341.30 299.81 L343.54 299.81 L343.54 341.10" fill="none" stroke="#1c4d8c" stroke-width="1.3"/>
<line x1="430.90" y1="299.81" x2="430.90" y2="297.81" stroke="#c8102e" stroke-width="1.2" />
<line x1="436.20" y1="279.00" x2="436.20" y2="343.20" stroke="#222" stroke-width="1" />
<text x="442.60" y="309.70" font-size="7.5" text-anchor="middle" transform="rotate(90 442.60 309.70)">***</text>
<line x1="304.00" y1="308.00" x2="317.00" y2="308.00" stroke="#1c4d8c" stroke-width="1.2" />
<line x1="310.50" y1="308.00" x2="310.50" y2="306.00" stroke="#1c4d8c" stroke-width="1" />
<text x="319.90" y="311.10" font-size="8.8" textLength="12" lengthAdjust="spacingAndGlyphs">NC</text>
<line x1="304.00" y1="319.50" x2="317.00" y2="319.50" stroke="#c8102e" stroke-width="1.2" />
<line x1="310.50" y1="319.50" x2="310.50" y2="317.50" stroke="#c8102e" stroke-width="1" />
<text x="319.90" y="322.60" font-size="8.8" textLength="6" lengthAdjust="spacingAndGlyphs">G</text>
<line x1="304.00" y1="331.30" x2="317.00" y2="331.30" stroke="#3aaa3a" stroke-width="1.2" />
<line x1="310.50" y1="331.30" x2="310.50" y2="329.30" stroke="#3aaa3a" stroke-width="1" />
<text x="319.90" y="334.40" font-size="8.8" textLength="5.4" lengthAdjust="spacingAndGlyphs">B</text>
<line x1="383.50" y1="414.10" x2="383.50" y2="543.10" stroke="#231f20" stroke-width="1" />
<line x1="380.50" y1="542.60" x2="383.50" y2="542.60" stroke="#231f20" stroke-width="1" />
<text x="377.60" y="545.80" font-size="9" text-anchor="end" textLength="4.8" lengthAdjust="spacingAndGlyphs">0</text>
<line x1="380.50" y1="501.50" x2="383.50" y2="501.50" stroke="#231f20" stroke-width="1" />
<text x="377.60" y="504.70" font-size="9" text-anchor="end" textLength="4.8" lengthAdjust="spacingAndGlyphs">2</text>
<line x1="380.50" y1="460.40" x2="383.50" y2="460.40" stroke="#231f20" stroke-width="1" />
<text x="377.60" y="463.60" font-size="9" text-anchor="end" textLength="4.8" lengthAdjust="spacingAndGlyphs">4</text>
<line x1="380.50" y1="419.30" x2="383.50" y2="419.30" stroke="#231f20" stroke-width="1" />
<text x="377.60" y="422.50" font-size="9" text-anchor="end" textLength="4.8" lengthAdjust="spacingAndGlyphs">6</text>
<line x1="383.00" y1="542.60" x2="512.00" y2="542.60" stroke="#231f20" stroke-width="1" />
<line x1="383.50" y1="542.60" x2="383.50" y2="545.10" stroke="#231f20" stroke-width="1" />
<text x="383.50" y="557.00" font-size="9" text-anchor="middle" textLength="4.8" lengthAdjust="spacingAndGlyphs">0</text>
<line x1="445.50" y1="542.60" x2="445.50" y2="545.10" stroke="#231f20" stroke-width="1" />
<text x="445.50" y="557.00" font-size="9" text-anchor="middle" textLength="4.8" lengthAdjust="spacingAndGlyphs">1</text>
<line x1="507.50" y1="542.60" x2="507.50" y2="545.10" stroke="#231f20" stroke-width="1" />
<text x="507.50" y="557.00" font-size="9" text-anchor="middle" textLength="4.8" lengthAdjust="spacingAndGlyphs">2</text>
<text x="445.10" y="572.20" font-size="10.6" text-anchor="middle" textLength="53" lengthAdjust="spacingAndGlyphs">Sampling time</text>
<text x="366.60" y="520.90" font-size="9.4" textLength="80" lengthAdjust="spacingAndGlyphs" transform="rotate(-90 366.60 520.90)">Concentration (ng/mL)</text>
<line x1="507.50" y1="430.60" x2="507.50" y2="495.34" stroke="#444" stroke-width="1" />
<line x1="505.00" y1="430.60" x2="510.00" y2="430.60" stroke="#444" stroke-width="1.1" />
<line x1="505.00" y1="495.34" x2="510.00" y2="495.34" stroke="#444" stroke-width="1.1" />
<line x1="445.50" y1="526.16" x2="445.50" y2="533.35" stroke="#444" stroke-width="1" />
<line x1="443.50" y1="533.35" x2="447.50" y2="533.35" stroke="#444" stroke-width="1" />
<path d="M383.50 542.60 L445.50 527.80 L507.50 541.98" fill="none" stroke="#c8102e" stroke-width="1.3"/>
<path d="M383.50 542.60 L445.50 525.75 L507.50 538.08" fill="none" stroke="#3aaa3a" stroke-width="1.3"/>
<path d="M383.50 542.60 L445.50 529.45 L507.50 463.48" fill="none" stroke="#1c4d8c" stroke-width="1.3"/>
<path d="M383.50 540.20 L385.90 544.52 L381.10 544.52 Z" fill="#c8102e"/>
<path d="M445.50 525.40 L447.90 529.72 L443.10 529.72 Z" fill="#c8102e"/>
<path d="M507.50 539.58 L509.90 543.90 L505.10 543.90 Z" fill="#c8102e"/>
<rect x="381.40" y="540.50" width="4.20" height="4.20" fill="#3aaa3a"/>
<rect x="443.40" y="523.65" width="4.20" height="4.20" fill="#3aaa3a"/>
<rect x="505.40" y="535.98" width="4.20" height="4.20" fill="#3aaa3a"/>
<circle cx="383.50" cy="542.60" r="2.2" fill="#1c4d8c" />
<circle cx="445.50" cy="529.45" r="2.2" fill="#1c4d8c" />
<circle cx="507.50" cy="463.48" r="2.2" fill="#1c4d8c" />
<line x1="390.40" y1="423.10" x2="403.80" y2="423.10" stroke="#1c4d8c" stroke-width="1.3" />
<circle cx="397.10" cy="423.10" r="2.1" fill="#1c4d8c" />
<text x="407.30" y="426.30" font-size="9" textLength="11.5" lengthAdjust="spacingAndGlyphs">NC</text>
<line x1="390.40" y1="435.20" x2="403.80" y2="435.20" stroke="#3aaa3a" stroke-width="1.3" />
<rect x="395.10" y="433.20" width="4.00" height="4.00" fill="#3aaa3a"/>
<text x="407.30" y="438.40" font-size="9" textLength="15.5" lengthAdjust="spacingAndGlyphs">BTZ</text>
<line x1="390.40" y1="446.70" x2="403.80" y2="446.70" stroke="#c8102e" stroke-width="1.3" />
<path d="M397.10 444.30 L399.50 448.62 L394.70 448.62 Z" fill="#c8102e"/>
<text x="407.30" y="449.90" font-size="9" textLength="6" lengthAdjust="spacingAndGlyphs">G</text>
<text x="445.50" y="487.60" font-size="9" text-anchor="middle" textLength="18" lengthAdjust="spacingAndGlyphs">Start</text>
<text x="445.60" y="496.80" font-size="9" text-anchor="middle" textLength="34.3" lengthAdjust="spacingAndGlyphs">treatment</text>
<line x1="445.50" y1="501.50" x2="445.50" y2="516.00" stroke="#111" stroke-width="1.1" />
<path d="M442.8 514.5 L448.2 514.5 L445.5 520.6 Z" fill="#111"/>
<line x1="513.00" y1="460.80" x2="513.00" y2="543.00" stroke="#222" stroke-width="1" />
<text x="518.00" y="504.40" font-size="8" text-anchor="middle">*</text>
<path d="M3 388 L3 380.3 L277.3 380.3 L277.3 388" fill="none" stroke="#231f20" stroke-width="1"/>
<line x1="140.50" y1="380.30" x2="140.50" y2="373.40" stroke="#231f20" stroke-width="1" />
<text x="44.70" y="405.80" font-size="10" text-anchor="middle" textLength="14.4" lengthAdjust="spacingAndGlyphs">NC</text>
<text x="143.30" y="405.80" font-size="10" text-anchor="middle" textLength="7.7" lengthAdjust="spacingAndGlyphs">G</text>
<text x="242.70" y="405.80" font-size="10" text-anchor="middle" textLength="6.8" lengthAdjust="spacingAndGlyphs">B</text>
<defs><linearGradient id="cbar" x1="0" y1="0" x2="0" y2="1"><stop offset="0" stop-color="#c02020"/><stop offset="0.08" stop-color="#d83818"/><stop offset="0.14" stop-color="#e07018"/><stop offset="0.23" stop-color="#e8d020"/><stop offset="0.32" stop-color="#b0c828"/><stop offset="0.44" stop-color="#50a838"/><stop offset="0.55" stop-color="#40a080"/><stop offset="0.67" stop-color="#40a8e0"/><stop offset="0.77" stop-color="#3060c0"/><stop offset="0.88" stop-color="#302890"/><stop offset="1" stop-color="#2a1870"/></linearGradient></defs>
<rect x="302.30" y="416.10" width="4.10" height="120.30" fill="url(#cbar)"/>
<line x1="306.40" y1="416.60" x2="308.30" y2="416.60" stroke="#555" stroke-width="0.6" />
<text x="310.30" y="418.50" font-size="5.2" textLength="7" lengthAdjust="spacingAndGlyphs" fill="#555">1.0</text>
<line x1="306.40" y1="443.50" x2="308.30" y2="443.50" stroke="#555" stroke-width="0.6" />
<text x="310.30" y="445.40" font-size="5.2" textLength="7" lengthAdjust="spacingAndGlyphs" fill="#555">0.8</text>
<line x1="306.40" y1="470.40" x2="308.30" y2="470.40" stroke="#555" stroke-width="0.6" />
<text x="310.30" y="472.30" font-size="5.2" textLength="7" lengthAdjust="spacingAndGlyphs" fill="#555">0.6</text>
<line x1="306.40" y1="497.30" x2="308.30" y2="497.30" stroke="#555" stroke-width="0.6" />
<text x="310.30" y="499.20" font-size="5.2" textLength="7" lengthAdjust="spacingAndGlyphs" fill="#555">0.4</text>
<line x1="306.40" y1="524.20" x2="308.30" y2="524.20" stroke="#555" stroke-width="0.6" />
<text x="310.30" y="526.10" font-size="5.2" textLength="7" lengthAdjust="spacingAndGlyphs" fill="#555">0.2</text>
<text x="317.30" y="481.50" font-size="5" fill="#555">×10<tspan font-size="3.5" dy="-2">5</tspan></text>
<text x="301.80" y="410.20" font-size="5.6" textLength="35.7" lengthAdjust="spacingAndGlyphs" fill="#333">Luminescence</text>
<text x="302.30" y="546.20" font-size="5.6" textLength="21.5" lengthAdjust="spacingAndGlyphs" fill="#333">Radiance</text>
<text x="302.30" y="552.40" font-size="5.6" textLength="35.4" lengthAdjust="spacingAndGlyphs" fill="#333">(p/sec/cm<tspan font-size="3.8" dy="-2">2</tspan><tspan dy="2">/sr)</tspan></text>
<rect x="301.3" y="556.6" width="39" height="21.5" fill="none" stroke="#333" stroke-width="0.8"/>
<text x="303.30" y="562.70" font-size="5.4" textLength="26.5" lengthAdjust="spacingAndGlyphs" fill="#222">Color Scale</text>
<text x="303.30" y="569.40" font-size="5.4" textLength="31.5" lengthAdjust="spacingAndGlyphs" fill="#222">Min = 1.00e4</text>
<text x="303.30" y="576.00" font-size="5.4" textLength="33.5" lengthAdjust="spacingAndGlyphs" fill="#222">Max = 1.00e5</text>
</svg></body></html>
